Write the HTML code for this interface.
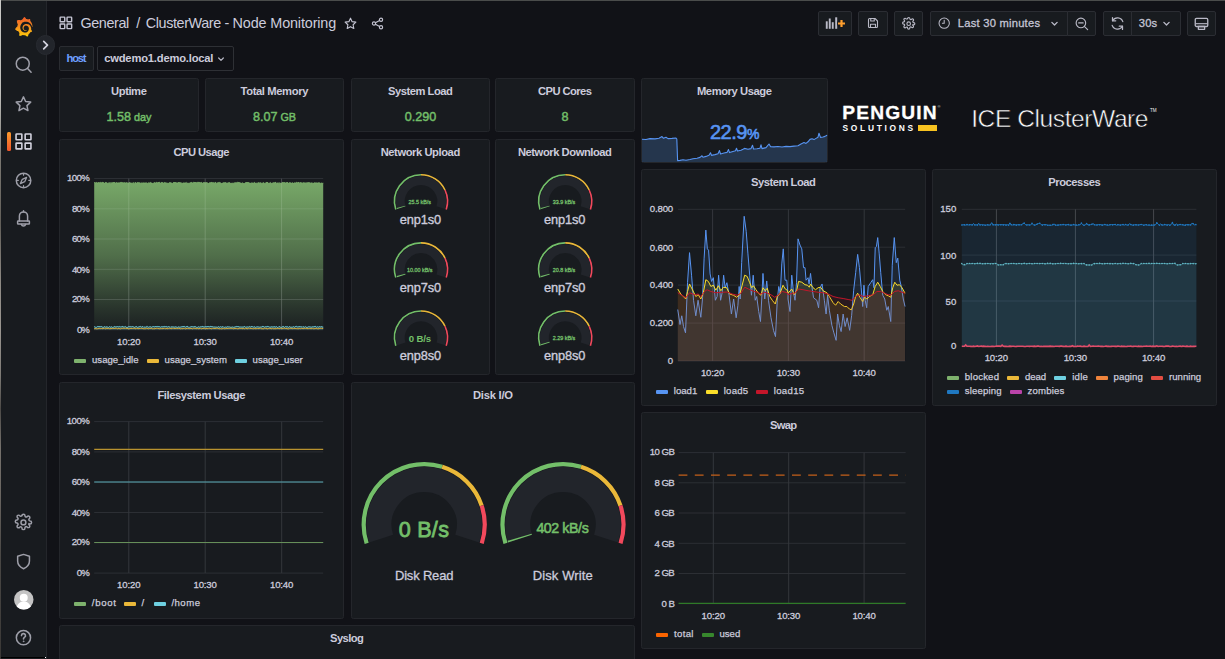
<!DOCTYPE html>
<html lang="en"><head><meta charset="utf-8"><title>ClusterWare - Node Monitoring - Grafana</title>
<style>
html,body{margin:0;padding:0}
body{width:1225px;height:659px;overflow:hidden;background:#111217;position:relative;font-family:"Liberation Sans",sans-serif;}
.a{position:absolute}
.t{position:absolute;white-space:nowrap;font-family:"Liberation Sans",sans-serif}
.panel{position:absolute;box-sizing:border-box;background:#181b1f;border:1px solid #24262b;border-radius:2.400px}
.btn{position:absolute;box-sizing:border-box;top:11px;height:25px;background:#181b1f;border:1px solid #2b2d33;border-radius:2px}
.sw{position:absolute;width:12px;height:4px;border-radius:1px}
svg{overflow:visible}
</style></head>
<body>
<div aria-label="Page chrome">
<div class="a" style="left:0;top:0;width:1225px;height:1px;background:#4a4c4b"></div>
<div class="a" style="left:0;top:0;width:1px;height:659px;background:linear-gradient(#c9c9c6 0%,#c0c0bc 14%,#7a7771 24%,#625f59 34%,#8e8a84 43%,#9a9690 50%,#7d7a75 57%,#4c4a47 62%,#75716c 68%,#6a6661 75%,#4a4845 84%,#3a3836 100%)"></div>
<div class="a" style="left:1px;top:1px;width:45px;height:658px;background:#181b1f;border-right:1px solid #24262b"></div>
<div class="a" style="left:1px;top:657px;width:45px;height:1px;background:#000"></div><div class="a" style="left:45px;top:657px;width:1px;height:1px;background:#fff"></div>
<svg class="a" style="left:14.9px;top:16.8px" width="17.4" height="19.1" viewBox="-3 0 102.500 108" preserveAspectRatio="none">
<defs><linearGradient id="gl" x1="0" y1="1" x2="0" y2="0"><stop offset="0" stop-color="#fbca0a"/><stop offset="0.55" stop-color="#f58a1f"/><stop offset="1" stop-color="#f05a28"/></linearGradient></defs>
<path fill="url(#gl)" d="M99 47c-.2-1.800-.500-3.900-1.100-6.200-.6-2.300-1.500-4.800-2.800-7.400-1.300-2.600-3-5.300-5.200-7.900-.9-1-1.800-2.100-2.900-3 1.600-6.200-1.900-11.600-1.900-11.600-6-.4-9.800 1.900-11.200 2.900-.2-.1-.5-.2-.7-.3-1-.4-2.100-.8-3.200-1.100-1.100-.3-2.200-.6-3.400-.8-1.200-.2-2.300-.4-3.500-.5-.2 0-.4 0-.6 0C59.800 2.900 52.400 0 52.400 0c-8.300 5.300-9.900 12.600-9.900 12.600s0 .2-.1.400c-.5.100-.9.300-1.400.4-.6.200-1.300.4-1.900.7-.6.200-1.300.5-1.900.8-1.300.5-2.500 1.200-3.700 1.800-1.200.7-2.300 1.400-3.400 2.200-.2-.1-.3-.1-.3-.1-11.500-4.400-21.700.900-21.700.900-.9 12.200 4.600 19.900 5.700 21.300-.3.800-.5 1.500-.8 2.300-.9 2.800-1.500 5.600-1.900 8.600-.1.400-.1.800-.2 1.300C2.300 58.400-2.800 69.900-2.800 69.900c8.900 10.200 19.200 10.800 19.200 10.800 1.300 2.400 2.800 4.600 4.600 6.700.7.900 1.500 1.700 2.300 2.600-3.200 9.300.5 17 .5 17 9.900.4 16.400-4.300 17.700-5.400 1 .3 2 .6 3 .9 3 .8 6.200 1.200 9.300 1.400.8 0 1.600 0 2.400 0h.4.2.5.5c4.700 6.600 12.800 7.600 12.800 7.600 5.800-6.100 6.200-12.200 6.200-13.500v-.1-.2-.3c1.200-.9 2.400-1.800 3.500-2.800 2.300-2.100 4.400-4.500 6.100-7.100.2-.2.300-.5.500-.7 6.600.4 11.300-4.100 11.300-4.100-1.100-6.900-5-10.200-5.800-10.900l-.1-.1-.1-.1c0-.4.100-.8.100-1.300.100-.7.100-1.500.100-2.200v-.6-.3-.1-.2l0-.5 0-.6c0-.2 0-.4 0-.6 0-.2 0-.4-.1-.6l-.1-.6-.1-.6c-.1-.8-.3-1.500-.4-2.300-.7-3-1.900-5.900-3.400-8.400-1.600-2.600-3.500-4.800-5.700-6.800-2.200-1.900-4.600-3.500-7.200-4.600-2.600-1.200-5.200-1.900-7.900-2.200-1.300-.2-2.700-.2-4-.2l-.5 0h-.1-.2-.2l-.5 0c-.2 0-.4 0-.500.100-.700.100-1.400.2-2 .3-2.700.5-5.200 1.500-7.400 2.800-2.200 1.300-4.100 3-5.700 4.900-1.600 1.900-2.800 3.900-3.600 6.100-.8 2.100-1.300 4.400-1.400 6.500 0 .5 0 1.100 0 1.600 0 .1 0 .3 0 .4l0 .4c0 .3 0 .5.100.8.100 1.100.300 2.100.600 3.100.600 2 1.500 3.800 2.700 5.400 1.200 1.500 2.500 2.800 4 3.800 1.500 1 3 1.700 4.600 2.200 1.600.5 3.100.7 4.600.7.200 0 .4 0 .5 0h.300c.100 0 .200 0 .300 0 .200 0 .3 0 .5 0 0 0 .100 0 .100 0l.200 0c.100 0 .200 0 .300 0 .200 0 .4-.1.500-.1.200 0 .3-.1.500-.1.300-.1.700-.2 1-.3.600-.2 1.200-.5 1.800-.7.600-.3 1.100-.6 1.500-.9.100-.1.300-.2.400-.3.500-.4.600-1.100.200-1.600-.4-.4-1-.5-1.500-.3-.1.100-.2.100-.4.200-.4.200-.8.400-1.300.5-.5.100-1 .3-1.500.4-.300 0-.500.100-.800.100-.100 0-.3 0-.400 0-.100 0-.3 0-.400 0-.100 0-.300 0-.400 0-.200 0-.300 0-.500 0 0 0-.1 0 0 0h-.1-.1c-.1 0-.100 0-.200 0-.100 0-.300 0-.400-.100-1.100-.200-2.300-.5-3.400-1-1.100-.5-2.200-1.200-3.100-2.100-1-.9-1.800-1.900-2.500-3.100-.700-1.200-1.100-2.500-1.300-3.800-.100-.7-.200-1.400-.100-2.100 0-.2 0-.400 0-.600 0 .100 0 0 0 0v-.100-.100c0-.100 0-.200 0-.300 0-.400.100-.700.200-1.100.5-2.900 2-5.800 4.200-7.900.600-.5 1.200-1 1.800-1.500.600-.4 1.300-.800 2-1.200.700-.3 1.400-.600 2.200-.800.700-.2 1.500-.3 2.300-.4.400 0 .8-.1 1.200-.1.100 0 .2 0 .3 0l.3 0h.200c.100 0 0 0 0 0h.100l.3 0c.8.100 1.700.2 2.500.4 1.600.4 3.200.9 4.700 1.800 3 1.600 5.500 4.200 7 7.300.800 1.500 1.300 3.200 1.600 5 .100.400.100.900.200 1.300l0 .3 0 .3c0 .100 0 .200 0 .300 0 .100 0 .200 0 .300v.300l0 .300c0 .200 0 .600 0 .800 0 .500-.100.900-.200 1.400-.100.500-.100.900-.200 1.400-.100.500-.200.900-.300 1.400-.200.900-.500 1.800-.900 2.700-.700 1.800-1.600 3.500-2.700 5-2.200 3.100-5.300 5.600-8.700 7.200-1.700.800-3.500 1.400-5.400 1.700-.900.200-1.900.300-2.800.300l-.200 0h-.200-.300-.500-.200c.100 0 0 0 0 0h-.100c-.5 0-1 0-1.500-.1-2-.100-4-.500-5.900-1.100-1.900-.600-3.800-1.300-5.500-2.200-3.500-1.900-6.600-4.400-9.100-7.500-1.200-1.500-2.300-3.200-3.200-4.900-.900-1.700-1.600-3.500-2.100-5.400-.500-1.800-.800-3.700-.900-5.700l0-.4v-.100-.100-.200l0-.300v-.100-.100-.200-.400-.100c0 0 0 0 0 0v-.200c0-.200 0-.500 0-.700.100-1 .100-2 .300-3 .100-1 .300-2 .500-3 .200-1 .5-2 .700-2.900.6-1.900 1.300-3.800 2.100-5.500 1.700-3.500 3.800-6.600 6.400-9.100.600-.6 1.300-1.200 2-1.800.700-.6 1.400-1.100 2.200-1.500.700-.5 1.500-.9 2.300-1.300.400-.2.800-.4 1.200-.6.200-.100.4-.200.600-.3.200-.100.400-.200.600-.3.800-.3 1.700-.6 2.500-.9.200-.100.400-.100.700-.2.200-.100.400-.100.700-.2.400-.100.900-.200 1.300-.3.200-.100.400-.100.700-.100.200 0 .4-.100.700-.100.200 0 .4-.100.700-.100l.3-.100.3-.1c.200 0 .4-.1.700-.1.300 0 .5-.1.800-.1.200 0 .600-.1.800-.1.200 0 .3 0 .5-.1l.3 0 .2 0 .200 0c.3 0 .5 0 .8-.1l.400 0c0 0 .100 0 0 0h.100.200c.200 0 .400 0 .700 0 .900 0 1.800 0 2.600 0 1.700.1 3.400.3 5.100.6 3.300.6 6.400 1.700 9.200 3.100 2.800 1.400 5.400 3.100 7.500 4.900.100.1.300.200.400.3.100.100.300.200.400.300.300.200.500.500.800.700.300.200.500.500.800.700.200.300.500.500.700.800 1 1 1.800 2 2.600 3.100 1.600 2.100 2.900 4.200 3.900 6.200.100.100.100.200.200.400.100.100.100.200.200.400.100.200.200.500.400.700.100.200.200.500.300.700.100.200.200.500.300.700.400 1 .800 1.900 1 2.700.500 1.400.800 2.600 1.100 3.600.100.400.500.700.900.700.500 0 .800-.4.800-.9.100-1.200.100-2.500 0-4z"/></svg>
<svg class="a" style="left:0;top:0" width="60" height="659" viewBox="0 0 60 659" fill="none" stroke="#9e9fa9" stroke-width="1.5" stroke-linecap="round" stroke-linejoin="round"><circle cx="22.75" cy="63.7" r="6.5"/><path d="M27.6 68.6L31.1 72.3"/><path d="M23.45 96.85 L25.62 101.46 L30.68 102.10 L26.97 105.59 L27.92 110.60 L23.45 108.15 L18.98 110.60 L19.93 105.59 L16.22 102.10 L21.28 101.46 Z"/><rect x="16.05" y="134.0" width="5.800" height="5.800" rx="0.5" stroke="#d2d2de" stroke-width="1.6"/><rect x="25.15" y="134.0" width="5.800" height="5.800" rx="0.5" stroke="#d2d2de" stroke-width="1.6"/><rect x="16.05" y="143.1" width="5.800" height="5.800" rx="0.5" stroke="#d2d2de" stroke-width="1.6"/><rect x="25.15" y="143.1" width="5.800" height="5.800" rx="0.5" stroke="#d2d2de" stroke-width="1.6"/><circle cx="23.55" cy="180.45" r="7.25"/><path d="M26.6 177.4l-1.9 4.3-4.3 1.9 1.9-4.3z" stroke-width="1.3"/><path d="M23.55 173.8v1.4M23.55 185.7v1.4M16.9 180.45h1.4M28.8 180.45h1.4" stroke-width="1.2"/><path d="M19.400 220.900V216a4.100 4.100 0 0 1 8.200 0v4.900"/><rect x="17.6" y="220.900" width="11.800" height="3.200" rx="0.5"/><path d="M23.5 210.700v1"/><path d="M21.400 224.500a2.200 2.200 0 0 0 4.200 0"/><g transform="translate(14.55 513.5) scale(0.74)" stroke-width="2"><circle cx="12" cy="12" r="3.300"/><path d="M19.400 13.500a1.700 1.700 0 0 0 .3 1.900l.100.100a2 2 0 1 1-2.800 2.800l-.100-.100a1.700 1.700 0 0 0-2.900 1.200V19.800a2 2 0 1 1-4 0v-.100a1.700 1.700 0 0 0-2.900-1.200l-.100.100a2 2 0 1 1-2.800-2.800l.100-.100a1.700 1.700 0 0 0-1.200-2.900H3a2 2 0 1 1 0-4h.100a1.700 1.700 0 0 0 1.200-2.900l-.100-.100a2 2 0 1 1 2.800-2.800l.100.100a1.700 1.700 0 0 0 1.900.3h.100a1.700 1.700 0 0 0 1-1.500V3a2 2 0 1 1 4 0v.100a1.700 1.700 0 0 0 2.900 1.200l.100-.100a2 2 0 1 1 2.800 2.800l-.100.100a1.700 1.700 0 0 0-.3 1.900v.100a1.700 1.700 0 0 0 1.500 1H21a2 2 0 1 1 0 4h-.100a1.700 1.700 0 0 0-1.500 1z"/></g><path d="M23.55 554.400l5.900 1.900v4.800c0 3.600-2.400 6.100-5.900 7.700-3.500-1.600-5.900-4.100-5.900-7.700v-4.800z"/><circle cx="23.45" cy="637.65" r="7.1"/><path d="M21.500 635.600a2 2 0 1 1 2.900 1.800c-.6.400-.9.800-.9 1.500" stroke-width="1.600"/><circle cx="23.500" cy="641.300" r="0.500" fill="#9e9fa9" stroke-width="0.600"/></svg>
<div class="a" style="left:7px;top:132px;width:4px;height:19px;border-radius:1.5px;background:linear-gradient(#fd9b2c,#f0562b)"></div>
<svg class="a" style="left:13.9px;top:589.9px" width="19.500" height="19.500" viewBox="0 0 24 24"><defs><clipPath id="av"><circle cx="12" cy="12" r="12"/></clipPath></defs><circle cx="12" cy="12" r="12" fill="#c4c4c4"/><g clip-path="url(#av)" fill="#fff"><circle cx="12" cy="9.600" r="4.900"/><path d="M2.500 26c0-7.800 4-12 9.500-12s9.500 4.200 9.500 12z"/></g></svg>
<div class="a" style="left:35.7px;top:35.2px;width:19.800px;height:19.800px;border-radius:50%;background:#22252b;box-sizing:border-box;border:1px solid #282b31"></div>
<svg class="a" style="left:40px;top:39px" width="12" height="12" viewBox="40 39 12 12" fill="none" stroke="#d4d4e0" stroke-width="1.700" stroke-linecap="round" stroke-linejoin="round"><path d="M43.700 41.400l3.800 3.700-3.800 3.700"/></svg>
<svg class="a" style="left:59.300px;top:16.400px" width="13.800" height="13.800" viewBox="0 0 24 24" fill="none" stroke="#c4c4d2" stroke-width="2.500" stroke-linejoin="round"><rect x="2" y="2" width="8" height="8" rx="1"/><rect x="14" y="2" width="8" height="8" rx="1"/><rect x="2" y="14" width="8" height="8" rx="1"/><rect x="14" y="14" width="8" height="8" rx="1"/></svg>
<span class="t" style="left:80.50px;top:15px;font-size:14.4px;line-height:16px;color:#ccccdc;letter-spacing:-0.422px;">General</span>
<span class="t" style="left:136.30px;top:15px;font-size:14.4px;line-height:16px;color:#ccccdc;">/</span>
<span class="t" style="left:145.80px;top:15px;font-size:14.4px;line-height:16px;color:#ccccdc;letter-spacing:-0.408px;">ClusterWare</span>
<span class="t" style="left:224.60px;top:15px;font-size:14.4px;line-height:16px;color:#ccccdc;">-</span>
<span class="t" style="left:232.60px;top:15px;font-size:14.4px;line-height:16px;color:#ccccdc;letter-spacing:-0.140px;">Node Monitoring</span>
<svg class="a" style="left:343.500px;top:16.500px" width="13" height="13" viewBox="0 0 24 24" fill="none" stroke="#c4c4d2" stroke-width="2.100" stroke-linejoin="round"><path d="M12 2.200l3 6.400 6.900.9-5.100 4.800 1.300 6.900L12 17.800l-6.100 3.400 1.300-6.900L2.100 9.500l6.900-.9z"/></svg>
<svg class="a" style="left:370.500px;top:16.500px" width="13" height="13" viewBox="0 0 24 24" fill="none" stroke="#c4c4d2" stroke-width="2.100"><circle cx="18.500" cy="5" r="3"/><circle cx="5.500" cy="12" r="3"/><circle cx="18.500" cy="19" r="3"/><path d="M8.200 10.600l7.600-4.200M8.200 13.400l7.600 4.200"/></svg>
<div class="btn" style="left:818.00px;width:34.00px;"></div>
<div class="btn" style="left:858.00px;width:30.00px;"></div>
<div class="btn" style="left:894.00px;width:29.00px;"></div>
<div class="btn" style="left:930.00px;width:138.00px;border-radius:2px 0 0 2px"></div>
<div class="btn" style="left:1067.00px;width:29.00px;border-radius:0 2px 2px 0"></div>
<div class="btn" style="left:1103.00px;width:29.00px;border-radius:2px 0 0 2px"></div>
<div class="btn" style="left:1131.00px;width:50.00px;border-radius:0 2px 2px 0"></div>
<div class="btn" style="left:1187.00px;width:29.00px;"></div>
<svg class="a" style="left:825px;top:16px" width="22" height="14" viewBox="825 16 22 14"><g fill="#b9b9c6"><rect x="825.800" y="21.300" width="1.900" height="7.500"/><rect x="828.800" y="18.500" width="1.900" height="10.300"/><rect x="831.800" y="22.200" width="1.900" height="6.600"/><rect x="835.200" y="17.300" width="2" height="11.500"/></g><path d="M841.500 19.300v8.400M837.300 23.500h8.400" stroke="#181b1f" stroke-width="4.200" fill="none"/><path d="M841.500 20v7M838 23.500h7" stroke="#ff9f2e" stroke-width="2.200" fill="none"/></svg>
<svg class="a" style="left:866.900px;top:17.200px" width="12" height="12" viewBox="0 0 24 24" fill="none" stroke="#b9b9c6" stroke-width="2.200" stroke-linejoin="round"><path d="M3 5a2 2 0 0 1 2-2h11l5 5v11a2 2 0 0 1-2 2H5a2 2 0 0 1-2-2z"/><path d="M7.500 3v5h7V3M7 21v-6.500h10V21"/></svg>
<svg class="a" style="left:901.700px;top:16.600px" width="13.400" height="13.400" viewBox="0 0 24 24" fill="none" stroke="#b9b9c6" stroke-width="2" stroke-linejoin="round"><circle cx="12" cy="12" r="3.200"/><path d="M19.400 13.500a1.700 1.700 0 0 0 .3 1.900l.100.100a2 2 0 1 1-2.800 2.800l-.100-.100a1.700 1.700 0 0 0-2.900 1.200V19.800a2 2 0 1 1-4 0v-.100a1.700 1.700 0 0 0-2.900-1.200l-.100.100a2 2 0 1 1-2.800-2.800l.100-.100a1.700 1.700 0 0 0-1.200-2.900H3a2 2 0 1 1 0-4h.100a1.700 1.700 0 0 0 1.200-2.900l-.100-.100a2 2 0 1 1 2.800-2.800l.100.100a1.700 1.700 0 0 0 1.900.3h.1a1.700 1.700 0 0 0 1-1.500V3a2 2 0 1 1 4 0v.100a1.700 1.700 0 0 0 2.900 1.200l.100-.100a2 2 0 1 1 2.800 2.800l-.100.100a1.700 1.700 0 0 0-.3 1.900v.1a1.700 1.700 0 0 0 1.500 1H21a2 2 0 1 1 0 4h-.100a1.700 1.700 0 0 0-1.500 1z"/></svg>
<svg class="a" style="left:937.700px;top:16.900px" width="12.400" height="12.400" viewBox="0 0 24 24" fill="none" stroke="#b9b9c6" stroke-width="2" stroke-linecap="round"><circle cx="12" cy="12" r="10"/><path d="M12 6.500V12H8.500"/></svg>
<span class="t" style="left:957.80px;top:17px;font-size:11.2px;line-height:12px;color:#c4c4d4;letter-spacing:0.231px;-webkit-text-stroke:0.3px #c4c4d4;">Last 30 minutes</span>
<svg class="a" style="left:1050.00px;top:19.00px" width="9" height="9" viewBox="0 0 24 24" fill="none" stroke="#b9b9c6" stroke-width="3.6" stroke-linecap="round" stroke-linejoin="round"><path d="M5 9l7 7 7-7"/></svg>
<svg class="a" style="left:1075px;top:17px" width="13.500" height="13.500" viewBox="0 0 24 24" fill="none" stroke="#b9b9c6" stroke-width="2" stroke-linecap="round"><circle cx="10.500" cy="10.500" r="8.500"/><path d="M17 17l5.500 5.500M6.500 10.500h8"/></svg>
<svg class="a" style="left:1110px;top:16px" width="15" height="15" viewBox="0 0 24 24" fill="none" stroke="#b9b9c6" stroke-width="2" stroke-linecap="round" stroke-linejoin="round"><path d="M20.500 9A9 9 0 0 0 4.200 7.500"/><path d="M4 2.500v5.200h5.200"/><path d="M3.500 15a9 9 0 0 0 16.300 1.500"/><path d="M20 21.500v-5.200h-5.200"/></svg>
<span class="t" style="left:1138.80px;top:17px;font-size:11.2px;line-height:12px;color:#c4c4d4;letter-spacing:0.171px;-webkit-text-stroke:0.3px #c4c4d4;">30s</span>
<svg class="a" style="left:1162.00px;top:19.00px" width="9" height="9" viewBox="0 0 24 24" fill="none" stroke="#b9b9c6" stroke-width="3.6" stroke-linecap="round" stroke-linejoin="round"><path d="M5 9l7 7 7-7"/></svg>
<svg class="a" style="left:1194px;top:16.500px" width="15" height="14" viewBox="0 0 24 22" fill="none" stroke="#b9b9c6" stroke-width="2.100" stroke-linejoin="round"><rect x="2" y="2" width="20" height="13" rx="2"/><path d="M2.500 10.500h19" stroke-width="1.800"/><rect x="7" y="15" width="10" height="4.500" /></svg>
<div class="a" style="left:59px;top:46px;width:33px;height:23px;background:#181b1f;border:1px solid #2a2c31;border-radius:2px"></div>
<span class="t" style="left:66.60px;top:52px;font-size:11.2px;line-height:12px;color:#6e9fff;font-weight:700;letter-spacing:-1.281px;">host</span>
<div class="a" style="left:97px;top:46px;width:135px;height:23px;background:#111217;border:1px solid #2e3035;border-radius:2px"></div>
<span class="t" style="left:104.20px;top:52px;font-size:11.2px;line-height:12px;color:#ccccdc;font-weight:700;letter-spacing:-0.192px;">cwdemo1.demo.local</span>
<svg class="a" style="left:216.50px;top:54.80px" width="8" height="8" viewBox="0 0 24 24" fill="none" stroke="#b9b9c6" stroke-width="3.6" stroke-linecap="round" stroke-linejoin="round"><path d="M5 9l7 7 7-7"/></svg>
</div>
<main aria-label="Dashboard panels">
<section aria-label="Stats">
<div class="panel" style="left:59.00px;top:78.00px;width:140.00px;height:54.00px"></div>
<span class="t" style="left:111.10px;top:85px;font-size:11.2px;line-height:12px;color:#ccccdc;font-weight:700;letter-spacing:-0.432px;">Uptime</span>
<div class="panel" style="left:205.00px;top:78.00px;width:139.00px;height:54.00px"></div>
<span class="t" style="left:240.55px;top:85px;font-size:11.2px;line-height:12px;color:#ccccdc;font-weight:700;letter-spacing:-0.371px;">Total Memory</span>
<div class="panel" style="left:351.00px;top:78.00px;width:139.00px;height:54.00px"></div>
<span class="t" style="left:388.05px;top:85px;font-size:11.2px;line-height:12px;color:#ccccdc;font-weight:700;letter-spacing:-0.481px;">System Load</span>
<div class="panel" style="left:495.00px;top:78.00px;width:140.00px;height:54.00px"></div>
<span class="t" style="left:538.05px;top:85px;font-size:11.2px;line-height:12px;color:#ccccdc;font-weight:700;letter-spacing:-0.576px;">CPU Cores</span>
<span class="t" style="left:69.00px;width:120px;text-align:center;top:108.60px;line-height:16px;font-size:12.6px;color:#73bf69;-webkit-text-stroke:0.45px #73bf69">1.58<span style="font-size:10.8px"> day</span></span>
<span class="t" style="left:214.50px;width:120px;text-align:center;top:108.60px;line-height:16px;font-size:12.6px;color:#73bf69;-webkit-text-stroke:0.45px #73bf69">8.07<span style="font-size:10.8px"> GB</span></span>
<span class="t" style="left:360.50px;width:120px;text-align:center;top:108.60px;line-height:16px;font-size:12.6px;color:#73bf69;-webkit-text-stroke:0.45px #73bf69">0.290<span style="font-size:10.8px"></span></span>
<span class="t" style="left:505.00px;width:120px;text-align:center;top:108.60px;line-height:16px;font-size:12.6px;color:#73bf69;-webkit-text-stroke:0.45px #73bf69">8<span style="font-size:10.8px"></span></span>
<div class="panel" style="left:641.00px;top:78.00px;width:187.00px;height:85.00px;overflow:hidden"></div>
<span class="t" style="left:696.95px;top:85px;font-size:11.2px;line-height:12px;color:#ccccdc;font-weight:700;letter-spacing:-0.416px;">Memory Usage</span>
<svg class="a" style="left:641.00px;top:78.00px" width="187.00" height="85.00" viewBox="641.00 78.00 187.00 85.00"><path d="M642.00 139.20 L646.00 139.50 L650.00 138.60 L655.00 138.90 L659.00 138.20 L662.00 136.60 L663.50 138.30 L666.00 137.20 L668.00 138.60 L672.00 138.40 L676.00 138.00 L676.80 139.00 L677.60 160.60 L680.00 160.40 L683.00 159.80 L686.00 160.30 L690.00 159.50 L693.00 158.70 L697.00 158.20 L700.00 157.40 L702.00 155.80 L703.00 157.20 L706.00 156.40 L709.00 155.30 L710.50 152.80 L711.50 155.40 L715.00 154.60 L718.00 153.80 L719.50 150.60 L720.50 154.00 L724.00 153.00 L727.00 152.40 L728.50 149.60 L729.50 152.60 L733.00 151.50 L735.50 150.80 L736.50 148.20 L737.50 151.00 L741.00 150.20 L743.00 149.20 L744.50 148.40 L748.00 149.20 L751.00 148.60 L752.50 145.20 L753.50 149.00 L757.00 148.70 L760.00 148.20 L761.00 144.80 L762.00 148.60 L766.00 147.60 L769.00 144.00 L770.50 146.60 L774.00 146.90 L778.00 146.50 L782.00 147.00 L786.00 146.40 L790.00 146.60 L794.00 146.10 L798.00 145.70 L801.00 144.00 L804.00 142.60 L806.00 143.40 L808.00 141.80 L810.00 139.40 L812.00 138.80 L814.00 139.60 L816.00 138.40 L818.00 137.20 L819.00 133.20 L820.50 137.40 L823.00 137.00 L825.00 136.40 L826.50 135.40 L827.00 136.00 L827.00 162.00 L642.00 162.00 Z" fill="#5794f2" fill-opacity="0.22"/><path d="M642.00 139.20 L646.00 139.50 L650.00 138.60 L655.00 138.90 L659.00 138.20 L662.00 136.60 L663.50 138.30 L666.00 137.20 L668.00 138.60 L672.00 138.40 L676.00 138.00 L676.80 139.00 L677.60 160.60 L680.00 160.40 L683.00 159.80 L686.00 160.30 L690.00 159.50 L693.00 158.70 L697.00 158.20 L700.00 157.40 L702.00 155.80 L703.00 157.20 L706.00 156.40 L709.00 155.30 L710.50 152.80 L711.50 155.40 L715.00 154.60 L718.00 153.80 L719.50 150.60 L720.50 154.00 L724.00 153.00 L727.00 152.40 L728.50 149.60 L729.50 152.60 L733.00 151.50 L735.50 150.80 L736.50 148.20 L737.50 151.00 L741.00 150.20 L743.00 149.20 L744.50 148.40 L748.00 149.20 L751.00 148.60 L752.50 145.20 L753.50 149.00 L757.00 148.70 L760.00 148.20 L761.00 144.80 L762.00 148.60 L766.00 147.60 L769.00 144.00 L770.50 146.60 L774.00 146.90 L778.00 146.50 L782.00 147.00 L786.00 146.40 L790.00 146.60 L794.00 146.10 L798.00 145.70 L801.00 144.00 L804.00 142.60 L806.00 143.40 L808.00 141.80 L810.00 139.40 L812.00 138.80 L814.00 139.60 L816.00 138.40 L818.00 137.20 L819.00 133.20 L820.50 137.40 L823.00 137.00 L825.00 136.40 L826.50 135.40 L827.00 136.00" fill="none" stroke="#5794f2" stroke-width="1.100" stroke-linejoin="round"/></svg>
<span class="t" style="left:641.00px;width:187.00px;text-align:center;top:119.30px;line-height:26px;font-size:20px;letter-spacing:-0.45px;color:#5794f2;-webkit-text-stroke:0.6px #5794f2">22.9<span style="font-size:14px">%</span></span>
<span class="t" style="left:842.30px;top:102px;font-size:19.2px;line-height:21px;color:#fff;font-weight:700;letter-spacing:1.153px;-webkit-text-stroke:0.3px #fff;">PENGUIN</span>
<span class="t" style="left:842.50px;top:123px;font-size:8.4px;line-height:10px;color:#fff;font-weight:700;letter-spacing:2.725px;">SOLUTIONS</span>
<div class="a" style="left:917.5px;top:125.3px;width:19px;height:5.8px;background:#f7c220"></div>
<span class="t" style="left:937.6px;top:104px;font-size:4px;line-height:5px;color:#ddd">&#174;</span>
<span class="t" style="left:971.20px;top:105px;font-size:24.6px;line-height:27px;color:#ffffff;letter-spacing:-0.445px;-webkit-text-stroke:0.55px #111217;">ICE ClusterWare</span>
<span class="t" style="left:1150px;top:107.5px;font-size:4.6px;line-height:6px;color:#eee;letter-spacing:-0.1px">TM</span>
</section>
<section aria-label="CPU Usage">
<div class="panel" style="left:59.00px;top:139.00px;width:285.00px;height:236.00px"></div>
<span class="t" style="left:173.50px;top:146px;font-size:11.2px;line-height:12px;color:#ccccdc;font-weight:700;letter-spacing:-0.547px;">CPU Usage</span>
<span class="t" style="left:66.97px;top:172px;font-size:9.6px;line-height:11px;color:#ccccdc;letter-spacing:-0.573px;-webkit-text-stroke:0.3px #ccccdc;">100%</span>
<span class="t" style="left:71.93px;top:203px;font-size:9.6px;line-height:11px;color:#ccccdc;letter-spacing:-0.672px;-webkit-text-stroke:0.3px #ccccdc;">80%</span>
<span class="t" style="left:71.93px;top:233px;font-size:9.6px;line-height:11px;color:#ccccdc;letter-spacing:-0.672px;-webkit-text-stroke:0.3px #ccccdc;">60%</span>
<span class="t" style="left:71.93px;top:264px;font-size:9.6px;line-height:11px;color:#ccccdc;letter-spacing:-0.672px;-webkit-text-stroke:0.3px #ccccdc;">40%</span>
<span class="t" style="left:71.93px;top:293px;font-size:9.6px;line-height:11px;color:#ccccdc;letter-spacing:-0.672px;-webkit-text-stroke:0.3px #ccccdc;">20%</span>
<span class="t" style="left:76.90px;top:324px;font-size:9.6px;line-height:11px;color:#ccccdc;letter-spacing:-0.971px;-webkit-text-stroke:0.3px #ccccdc;">0%</span>
<span class="t" style="left:117.09px;top:336px;font-size:9.6px;line-height:11px;color:#ccccdc;letter-spacing:-0.150px;-webkit-text-stroke:0.3px #ccccdc;">10:20</span>
<span class="t" style="left:193.49px;top:336px;font-size:9.6px;line-height:11px;color:#ccccdc;letter-spacing:-0.150px;-webkit-text-stroke:0.3px #ccccdc;">10:30</span>
<span class="t" style="left:269.89px;top:336px;font-size:9.6px;line-height:11px;color:#ccccdc;letter-spacing:-0.150px;-webkit-text-stroke:0.3px #ccccdc;">10:40</span>
<svg class="a" style="left:59.00px;top:139.00px" width="285.00" height="236.00" viewBox="59.00 139.00 285.00 236.00"><defs><linearGradient id="cg" x1="0" y1="0" x2="0" y2="1"><stop offset="0" stop-color="#7eb26d" stop-opacity="0.93"/><stop offset="0.5" stop-color="#7eb26d" stop-opacity="0.55"/><stop offset="0.85" stop-color="#7eb26d" stop-opacity="0.17"/><stop offset="1" stop-color="#7eb26d" stop-opacity="0.03"/></linearGradient></defs><line x1="94.20" x2="323.20" y1="178.50" y2="178.50" stroke="#2c2f34" stroke-width="1"/><line x1="94.20" x2="323.20" y1="208.80" y2="208.80" stroke="#2c2f34" stroke-width="1"/><line x1="94.20" x2="323.20" y1="239.00" y2="239.00" stroke="#2c2f34" stroke-width="1"/><line x1="94.20" x2="323.20" y1="269.30" y2="269.30" stroke="#2c2f34" stroke-width="1"/><line x1="94.20" x2="323.20" y1="299.50" y2="299.50" stroke="#2c2f34" stroke-width="1"/><line x1="94.20" x2="323.20" y1="329.80" y2="329.80" stroke="#2c2f34" stroke-width="1"/><line x1="128.80" x2="128.80" y1="178.50" y2="329.80" stroke="#34373c" stroke-width="1"/><line x1="205.20" x2="205.20" y1="178.50" y2="329.80" stroke="#34373c" stroke-width="1"/><line x1="281.60" x2="281.60" y1="178.50" y2="329.80" stroke="#34373c" stroke-width="1"/><path d="M94.20 182.71 L95.00 182.52 L95.80 183.07 L96.60 182.43 L97.40 182.94 L98.20 182.75 L99.00 182.41 L99.80 182.91 L100.60 182.39 L101.40 182.83 L102.20 182.43 L103.00 182.45 L103.80 182.82 L104.60 183.26 L105.40 182.49 L106.20 182.60 L107.00 183.04 L107.80 183.39 L108.60 182.98 L109.40 182.79 L110.20 183.42 L111.00 182.40 L111.80 183.29 L112.60 182.67 L113.40 182.51 L114.20 182.48 L115.00 182.69 L115.80 183.25 L116.60 182.55 L117.40 182.99 L118.20 183.05 L119.00 182.76 L119.80 182.95 L120.60 182.42 L121.40 182.42 L122.20 182.58 L123.00 183.10 L123.80 182.82 L124.60 182.70 L125.40 182.99 L126.20 182.85 L127.00 182.68 L127.80 183.22 L128.60 183.12 L129.40 182.62 L130.20 182.98 L131.00 182.93 L131.80 183.31 L132.60 183.15 L133.40 182.67 L134.20 183.43 L135.00 182.48 L135.80 182.81 L136.60 183.18 L137.40 182.52 L138.20 182.89 L139.00 182.39 L139.80 183.09 L140.60 183.19 L141.40 182.98 L142.20 183.31 L143.00 182.70 L143.80 183.11 L144.60 183.00 L145.40 182.99 L146.20 182.85 L147.00 183.27 L147.80 183.39 L148.60 182.87 L149.40 183.08 L150.20 182.42 L151.00 183.12 L151.80 183.06 L152.60 183.44 L153.40 183.25 L154.20 182.66 L155.00 182.77 L155.80 183.09 L156.60 182.37 L157.40 182.86 L158.20 182.53 L159.00 182.48 L159.80 182.41 L160.60 183.20 L161.40 182.49 L162.20 182.62 L163.00 182.78 L163.80 183.31 L164.60 182.44 L165.40 182.84 L166.20 182.95 L167.00 183.32 L167.80 183.25 L168.60 183.30 L169.40 182.66 L170.20 182.81 L171.00 182.74 L171.80 183.32 L172.60 183.40 L173.40 182.52 L174.20 182.54 L175.00 182.61 L175.80 182.61 L176.60 182.88 L177.40 183.00 L178.20 182.64 L179.00 182.35 L179.80 182.81 L180.60 182.76 L181.40 182.97 L182.20 183.40 L183.00 183.11 L183.80 182.92 L184.60 183.03 L185.40 183.09 L186.20 182.41 L187.00 183.34 L187.80 183.21 L188.60 183.31 L189.40 183.23 L190.20 182.78 L191.00 182.79 L191.80 182.46 L192.60 183.05 L193.40 182.42 L194.20 182.42 L195.00 182.58 L195.80 182.53 L196.60 182.72 L197.40 182.41 L198.20 182.35 L199.00 182.52 L199.80 182.46 L200.60 182.75 L201.40 182.38 L202.20 183.31 L203.00 183.03 L203.80 182.51 L204.60 182.63 L205.40 182.73 L206.20 182.75 L207.00 182.49 L207.80 183.28 L208.60 183.44 L209.40 182.86 L210.20 182.88 L211.00 182.44 L211.80 182.46 L212.60 182.73 L213.40 182.64 L214.20 183.26 L215.00 182.53 L215.80 182.38 L216.60 183.40 L217.40 182.93 L218.20 182.51 L219.00 182.95 L219.80 182.38 L220.60 182.93 L221.40 183.43 L222.20 183.30 L223.00 183.12 L223.80 182.64 L224.60 182.75 L225.40 182.53 L226.20 183.20 L227.00 182.94 L227.80 183.21 L228.60 182.71 L229.40 182.60 L230.20 183.24 L231.00 183.43 L231.80 183.29 L232.60 183.24 L233.40 183.25 L234.20 183.16 L235.00 182.60 L235.80 182.92 L236.60 182.74 L237.40 182.38 L238.20 182.38 L239.00 182.66 L239.80 182.64 L240.60 183.11 L241.40 183.40 L242.20 182.84 L243.00 183.38 L243.80 183.44 L244.60 183.40 L245.40 182.75 L246.20 182.59 L247.00 182.60 L247.80 182.57 L248.60 182.57 L249.40 183.04 L250.20 183.34 L251.00 183.27 L251.80 182.88 L252.60 183.07 L253.40 183.23 L254.20 182.44 L255.00 183.08 L255.80 183.35 L256.60 183.21 L257.40 183.18 L258.20 182.88 L259.00 182.55 L259.80 183.22 L260.60 182.72 L261.40 183.23 L262.20 183.42 L263.00 182.79 L263.80 182.79 L264.60 183.39 L265.40 183.15 L266.20 182.54 L267.00 182.49 L267.80 182.52 L268.60 183.35 L269.40 183.24 L270.20 182.51 L271.00 183.26 L271.80 183.43 L272.60 183.07 L273.40 182.74 L274.20 182.95 L275.00 182.49 L275.80 182.37 L276.60 183.42 L277.40 183.06 L278.20 182.93 L279.00 183.38 L279.80 182.83 L280.60 183.31 L281.40 183.26 L282.20 182.58 L283.00 182.63 L283.80 182.67 L284.60 182.61 L285.40 183.00 L286.20 182.64 L287.00 182.81 L287.80 182.49 L288.60 183.35 L289.40 182.74 L290.20 182.85 L291.00 182.99 L291.80 183.34 L292.60 182.81 L293.40 183.36 L294.20 182.90 L295.00 182.94 L295.80 182.93 L296.60 182.37 L297.40 182.83 L298.20 182.55 L299.00 182.35 L299.80 183.23 L300.60 182.54 L301.40 182.87 L302.20 183.15 L303.00 182.96 L303.80 182.71 L304.60 182.92 L305.40 182.96 L306.20 183.21 L307.00 182.47 L307.80 182.97 L308.60 182.62 L309.40 182.65 L310.20 183.20 L311.00 182.91 L311.80 182.97 L312.60 183.19 L313.40 183.35 L314.20 182.84 L315.00 183.02 L315.80 182.91 L316.60 182.91 L317.40 183.11 L318.20 182.85 L319.00 182.94 L319.80 182.88 L320.60 183.39 L321.40 183.12 L322.20 183.31 L323.00 183.39 L323.20 182.90 L323.20 329.80 L94.20 329.80 Z" fill="url(#cg)"/><path d="M94.20 182.71 L95.00 182.52 L95.80 183.07 L96.60 182.43 L97.40 182.94 L98.20 182.75 L99.00 182.41 L99.80 182.91 L100.60 182.39 L101.40 182.83 L102.20 182.43 L103.00 182.45 L103.80 182.82 L104.60 183.26 L105.40 182.49 L106.20 182.60 L107.00 183.04 L107.80 183.39 L108.60 182.98 L109.40 182.79 L110.20 183.42 L111.00 182.40 L111.80 183.29 L112.60 182.67 L113.40 182.51 L114.20 182.48 L115.00 182.69 L115.80 183.25 L116.60 182.55 L117.40 182.99 L118.20 183.05 L119.00 182.76 L119.80 182.95 L120.60 182.42 L121.40 182.42 L122.20 182.58 L123.00 183.10 L123.80 182.82 L124.60 182.70 L125.40 182.99 L126.20 182.85 L127.00 182.68 L127.80 183.22 L128.60 183.12 L129.40 182.62 L130.20 182.98 L131.00 182.93 L131.80 183.31 L132.60 183.15 L133.40 182.67 L134.20 183.43 L135.00 182.48 L135.80 182.81 L136.60 183.18 L137.40 182.52 L138.20 182.89 L139.00 182.39 L139.80 183.09 L140.60 183.19 L141.40 182.98 L142.20 183.31 L143.00 182.70 L143.80 183.11 L144.60 183.00 L145.40 182.99 L146.20 182.85 L147.00 183.27 L147.80 183.39 L148.60 182.87 L149.40 183.08 L150.20 182.42 L151.00 183.12 L151.80 183.06 L152.60 183.44 L153.40 183.25 L154.20 182.66 L155.00 182.77 L155.80 183.09 L156.60 182.37 L157.40 182.86 L158.20 182.53 L159.00 182.48 L159.80 182.41 L160.60 183.20 L161.40 182.49 L162.20 182.62 L163.00 182.78 L163.80 183.31 L164.60 182.44 L165.40 182.84 L166.20 182.95 L167.00 183.32 L167.80 183.25 L168.60 183.30 L169.40 182.66 L170.20 182.81 L171.00 182.74 L171.80 183.32 L172.60 183.40 L173.40 182.52 L174.20 182.54 L175.00 182.61 L175.80 182.61 L176.60 182.88 L177.40 183.00 L178.20 182.64 L179.00 182.35 L179.80 182.81 L180.60 182.76 L181.40 182.97 L182.20 183.40 L183.00 183.11 L183.80 182.92 L184.60 183.03 L185.40 183.09 L186.20 182.41 L187.00 183.34 L187.80 183.21 L188.60 183.31 L189.40 183.23 L190.20 182.78 L191.00 182.79 L191.80 182.46 L192.60 183.05 L193.40 182.42 L194.20 182.42 L195.00 182.58 L195.80 182.53 L196.60 182.72 L197.40 182.41 L198.20 182.35 L199.00 182.52 L199.80 182.46 L200.60 182.75 L201.40 182.38 L202.20 183.31 L203.00 183.03 L203.80 182.51 L204.60 182.63 L205.40 182.73 L206.20 182.75 L207.00 182.49 L207.80 183.28 L208.60 183.44 L209.40 182.86 L210.20 182.88 L211.00 182.44 L211.80 182.46 L212.60 182.73 L213.40 182.64 L214.20 183.26 L215.00 182.53 L215.80 182.38 L216.60 183.40 L217.40 182.93 L218.20 182.51 L219.00 182.95 L219.80 182.38 L220.60 182.93 L221.40 183.43 L222.20 183.30 L223.00 183.12 L223.80 182.64 L224.60 182.75 L225.40 182.53 L226.20 183.20 L227.00 182.94 L227.80 183.21 L228.60 182.71 L229.40 182.60 L230.20 183.24 L231.00 183.43 L231.80 183.29 L232.60 183.24 L233.40 183.25 L234.20 183.16 L235.00 182.60 L235.80 182.92 L236.60 182.74 L237.40 182.38 L238.20 182.38 L239.00 182.66 L239.80 182.64 L240.60 183.11 L241.40 183.40 L242.20 182.84 L243.00 183.38 L243.80 183.44 L244.60 183.40 L245.40 182.75 L246.20 182.59 L247.00 182.60 L247.80 182.57 L248.60 182.57 L249.40 183.04 L250.20 183.34 L251.00 183.27 L251.80 182.88 L252.60 183.07 L253.40 183.23 L254.20 182.44 L255.00 183.08 L255.80 183.35 L256.60 183.21 L257.40 183.18 L258.20 182.88 L259.00 182.55 L259.80 183.22 L260.60 182.72 L261.40 183.23 L262.20 183.42 L263.00 182.79 L263.80 182.79 L264.60 183.39 L265.40 183.15 L266.20 182.54 L267.00 182.49 L267.80 182.52 L268.60 183.35 L269.40 183.24 L270.20 182.51 L271.00 183.26 L271.80 183.43 L272.60 183.07 L273.40 182.74 L274.20 182.95 L275.00 182.49 L275.80 182.37 L276.60 183.42 L277.40 183.06 L278.20 182.93 L279.00 183.38 L279.80 182.83 L280.60 183.31 L281.40 183.26 L282.20 182.58 L283.00 182.63 L283.80 182.67 L284.60 182.61 L285.40 183.00 L286.20 182.64 L287.00 182.81 L287.80 182.49 L288.60 183.35 L289.40 182.74 L290.20 182.85 L291.00 182.99 L291.80 183.34 L292.60 182.81 L293.40 183.36 L294.20 182.90 L295.00 182.94 L295.80 182.93 L296.60 182.37 L297.40 182.83 L298.20 182.55 L299.00 182.35 L299.80 183.23 L300.60 182.54 L301.40 182.87 L302.20 183.15 L303.00 182.96 L303.80 182.71 L304.60 182.92 L305.40 182.96 L306.20 183.21 L307.00 182.47 L307.80 182.97 L308.60 182.62 L309.40 182.65 L310.20 183.20 L311.00 182.91 L311.80 182.97 L312.60 183.19 L313.40 183.35 L314.20 182.84 L315.00 183.02 L315.80 182.91 L316.60 182.91 L317.40 183.11 L318.20 182.85 L319.00 182.94 L319.80 182.88 L320.60 183.39 L321.40 183.12 L322.20 183.31 L323.00 183.39 L323.20 182.90" fill="none" stroke="#7eb26d" stroke-width="1"/><line x1="128.80" x2="128.80" y1="178.50" y2="329.80" stroke="#ffffff" stroke-opacity="0.10" stroke-width="1"/><line x1="205.20" x2="205.20" y1="178.50" y2="329.80" stroke="#ffffff" stroke-opacity="0.10" stroke-width="1"/><line x1="281.60" x2="281.60" y1="178.50" y2="329.80" stroke="#ffffff" stroke-opacity="0.10" stroke-width="1"/><line x1="94.20" x2="323.20" y1="208.80" y2="208.80" stroke="#ffffff" stroke-opacity="0.07" stroke-width="1"/><line x1="94.20" x2="323.20" y1="239.00" y2="239.00" stroke="#ffffff" stroke-opacity="0.07" stroke-width="1"/><line x1="94.20" x2="323.20" y1="269.30" y2="269.30" stroke="#ffffff" stroke-opacity="0.07" stroke-width="1"/><line x1="94.20" x2="323.20" y1="299.50" y2="299.50" stroke="#ffffff" stroke-opacity="0.07" stroke-width="1"/><path d="M94.20 326.66 L95.00 326.96 L95.80 327.34 L96.60 327.24 L97.40 326.54 L98.20 326.52 L99.00 326.84 L99.80 326.47 L100.60 326.64 L101.40 326.47 L102.20 327.07 L103.00 327.18 L103.80 327.30 L104.60 326.55 L105.40 327.12 L106.20 327.06 L107.00 326.54 L107.80 327.28 L108.60 327.37 L109.40 326.62 L110.20 327.35 L111.00 326.80 L111.80 326.89 L112.60 327.39 L113.40 327.23 L114.20 326.56 L115.00 326.83 L115.80 326.92 L116.60 326.74 L117.40 326.60 L118.20 326.72 L119.00 327.12 L119.80 326.42 L120.60 326.95 L121.40 326.84 L122.20 326.42 L123.00 326.73 L123.80 327.02 L124.60 326.91 L125.40 326.46 L126.20 327.39 L127.00 327.19 L127.80 327.37 L128.60 326.50 L129.40 326.67 L130.20 326.44 L131.00 327.18 L131.80 326.67 L132.60 326.53 L133.40 326.82 L134.20 327.31 L135.00 327.22 L135.80 326.66 L136.60 326.55 L137.40 327.32 L138.20 326.97 L139.00 327.10 L139.80 326.49 L140.60 326.46 L141.40 327.09 L142.20 326.83 L143.00 326.47 L143.80 327.34 L144.60 327.03 L145.40 327.20 L146.20 326.48 L147.00 327.26 L147.80 326.47 L148.60 327.26 L149.40 326.85 L150.20 326.74 L151.00 326.95 L151.80 327.33 L152.60 326.67 L153.40 326.53 L154.20 326.93 L155.00 326.64 L155.80 326.51 L156.60 326.56 L157.40 326.45 L158.20 326.60 L159.00 326.71 L159.80 326.71 L160.60 327.16 L161.40 326.69 L162.20 326.90 L163.00 326.58 L163.80 326.75 L164.60 326.42 L165.40 326.65 L166.20 326.42 L167.00 327.13 L167.80 326.95 L168.60 326.59 L169.40 326.87 L170.20 327.33 L171.00 326.51 L171.80 327.22 L172.60 326.83 L173.40 326.90 L174.20 327.23 L175.00 326.79 L175.80 326.91 L176.60 327.09 L177.40 327.38 L178.20 326.74 L179.00 327.23 L179.80 327.11 L180.60 327.04 L181.40 326.80 L182.20 326.75 L183.00 326.45 L183.80 326.53 L184.60 326.47 L185.40 327.14 L186.20 326.66 L187.00 326.56 L187.80 326.48 L188.60 327.24 L189.40 327.27 L190.20 327.07 L191.00 326.68 L191.80 326.64 L192.60 326.69 L193.40 326.86 L194.20 326.56 L195.00 326.85 L195.80 326.66 L196.60 327.36 L197.40 327.37 L198.20 326.95 L199.00 326.64 L199.80 327.37 L200.60 326.71 L201.40 326.76 L202.20 326.40 L203.00 326.78 L203.80 326.87 L204.60 326.90 L205.40 326.60 L206.20 326.90 L207.00 326.40 L207.80 326.66 L208.60 326.49 L209.40 326.80 L210.20 326.44 L211.00 326.42 L211.80 326.70 L212.60 326.63 L213.40 326.99 L214.20 326.93 L215.00 327.15 L215.80 327.06 L216.60 327.12 L217.40 327.28 L218.20 326.79 L219.00 326.73 L219.80 327.38 L220.60 326.55 L221.40 327.12 L222.20 327.04 L223.00 326.44 L223.80 327.24 L224.60 327.29 L225.40 327.03 L226.20 327.13 L227.00 327.21 L227.80 326.54 L228.60 326.92 L229.40 326.90 L230.20 327.23 L231.00 327.20 L231.80 327.23 L232.60 326.98 L233.40 327.29 L234.20 327.08 L235.00 327.09 L235.80 326.63 L236.60 326.43 L237.40 326.53 L238.20 326.76 L239.00 326.50 L239.80 327.24 L240.60 326.96 L241.40 327.03 L242.20 327.03 L243.00 327.08 L243.80 326.89 L244.60 326.40 L245.40 327.20 L246.20 327.15 L247.00 326.90 L247.80 326.94 L248.60 327.06 L249.40 326.47 L250.20 327.14 L251.00 326.65 L251.80 326.47 L252.60 326.67 L253.40 327.13 L254.20 326.61 L255.00 327.14 L255.80 327.38 L256.60 326.89 L257.40 326.78 L258.20 326.88 L259.00 327.08 L259.80 327.17 L260.60 327.02 L261.40 327.04 L262.20 326.48 L263.00 326.55 L263.80 326.65 L264.60 327.14 L265.40 326.70 L266.20 326.97 L267.00 326.41 L267.80 326.46 L268.60 326.67 L269.40 327.07 L270.20 327.09 L271.00 327.08 L271.80 326.69 L272.60 326.92 L273.40 326.86 L274.20 326.87 L275.00 326.52 L275.80 327.29 L276.60 326.60 L277.40 327.38 L278.20 327.34 L279.00 326.42 L279.80 326.86 L280.60 327.22 L281.40 327.37 L282.20 326.85 L283.00 326.67 L283.80 326.61 L284.60 327.35 L285.40 326.61 L286.20 326.98 L287.00 326.54 L287.80 326.92 L288.60 327.35 L289.40 326.53 L290.20 327.22 L291.00 326.91 L291.80 327.29 L292.60 327.10 L293.40 326.63 L294.20 327.30 L295.00 326.89 L295.80 326.42 L296.60 326.40 L297.40 326.89 L298.20 326.85 L299.00 326.70 L299.80 326.54 L300.60 326.74 L301.40 326.72 L302.20 327.24 L303.00 326.40 L303.80 327.15 L304.60 327.24 L305.40 326.52 L306.20 327.33 L307.00 327.11 L307.80 327.30 L308.60 326.69 L309.40 326.77 L310.20 326.79 L311.00 327.40 L311.80 326.99 L312.60 326.76 L313.40 326.83 L314.20 326.68 L315.00 326.45 L315.80 326.50 L316.60 327.23 L317.40 326.69 L318.20 327.34 L319.00 326.65 L319.80 326.67 L320.60 326.91 L321.40 326.59 L322.20 326.77 L323.00 327.36 L323.20 326.90 L323.20 329.80 L94.20 329.80 Z" fill="#6ed0e0" fill-opacity="0.25"/><path d="M94.20 326.66 L95.00 326.96 L95.80 327.34 L96.60 327.24 L97.40 326.54 L98.20 326.52 L99.00 326.84 L99.80 326.47 L100.60 326.64 L101.40 326.47 L102.20 327.07 L103.00 327.18 L103.80 327.30 L104.60 326.55 L105.40 327.12 L106.20 327.06 L107.00 326.54 L107.80 327.28 L108.60 327.37 L109.40 326.62 L110.20 327.35 L111.00 326.80 L111.80 326.89 L112.60 327.39 L113.40 327.23 L114.20 326.56 L115.00 326.83 L115.80 326.92 L116.60 326.74 L117.40 326.60 L118.20 326.72 L119.00 327.12 L119.80 326.42 L120.60 326.95 L121.40 326.84 L122.20 326.42 L123.00 326.73 L123.80 327.02 L124.60 326.91 L125.40 326.46 L126.20 327.39 L127.00 327.19 L127.80 327.37 L128.60 326.50 L129.40 326.67 L130.20 326.44 L131.00 327.18 L131.80 326.67 L132.60 326.53 L133.40 326.82 L134.20 327.31 L135.00 327.22 L135.80 326.66 L136.60 326.55 L137.40 327.32 L138.20 326.97 L139.00 327.10 L139.80 326.49 L140.60 326.46 L141.40 327.09 L142.20 326.83 L143.00 326.47 L143.80 327.34 L144.60 327.03 L145.40 327.20 L146.20 326.48 L147.00 327.26 L147.80 326.47 L148.60 327.26 L149.40 326.85 L150.20 326.74 L151.00 326.95 L151.80 327.33 L152.60 326.67 L153.40 326.53 L154.20 326.93 L155.00 326.64 L155.80 326.51 L156.60 326.56 L157.40 326.45 L158.20 326.60 L159.00 326.71 L159.80 326.71 L160.60 327.16 L161.40 326.69 L162.20 326.90 L163.00 326.58 L163.80 326.75 L164.60 326.42 L165.40 326.65 L166.20 326.42 L167.00 327.13 L167.80 326.95 L168.60 326.59 L169.40 326.87 L170.20 327.33 L171.00 326.51 L171.80 327.22 L172.60 326.83 L173.40 326.90 L174.20 327.23 L175.00 326.79 L175.80 326.91 L176.60 327.09 L177.40 327.38 L178.20 326.74 L179.00 327.23 L179.80 327.11 L180.60 327.04 L181.40 326.80 L182.20 326.75 L183.00 326.45 L183.80 326.53 L184.60 326.47 L185.40 327.14 L186.20 326.66 L187.00 326.56 L187.80 326.48 L188.60 327.24 L189.40 327.27 L190.20 327.07 L191.00 326.68 L191.80 326.64 L192.60 326.69 L193.40 326.86 L194.20 326.56 L195.00 326.85 L195.80 326.66 L196.60 327.36 L197.40 327.37 L198.20 326.95 L199.00 326.64 L199.80 327.37 L200.60 326.71 L201.40 326.76 L202.20 326.40 L203.00 326.78 L203.80 326.87 L204.60 326.90 L205.40 326.60 L206.20 326.90 L207.00 326.40 L207.80 326.66 L208.60 326.49 L209.40 326.80 L210.20 326.44 L211.00 326.42 L211.80 326.70 L212.60 326.63 L213.40 326.99 L214.20 326.93 L215.00 327.15 L215.80 327.06 L216.60 327.12 L217.40 327.28 L218.20 326.79 L219.00 326.73 L219.80 327.38 L220.60 326.55 L221.40 327.12 L222.20 327.04 L223.00 326.44 L223.80 327.24 L224.60 327.29 L225.40 327.03 L226.20 327.13 L227.00 327.21 L227.80 326.54 L228.60 326.92 L229.40 326.90 L230.20 327.23 L231.00 327.20 L231.80 327.23 L232.60 326.98 L233.40 327.29 L234.20 327.08 L235.00 327.09 L235.80 326.63 L236.60 326.43 L237.40 326.53 L238.20 326.76 L239.00 326.50 L239.80 327.24 L240.60 326.96 L241.40 327.03 L242.20 327.03 L243.00 327.08 L243.80 326.89 L244.60 326.40 L245.40 327.20 L246.20 327.15 L247.00 326.90 L247.80 326.94 L248.60 327.06 L249.40 326.47 L250.20 327.14 L251.00 326.65 L251.80 326.47 L252.60 326.67 L253.40 327.13 L254.20 326.61 L255.00 327.14 L255.80 327.38 L256.60 326.89 L257.40 326.78 L258.20 326.88 L259.00 327.08 L259.80 327.17 L260.60 327.02 L261.40 327.04 L262.20 326.48 L263.00 326.55 L263.80 326.65 L264.60 327.14 L265.40 326.70 L266.20 326.97 L267.00 326.41 L267.80 326.46 L268.60 326.67 L269.40 327.07 L270.20 327.09 L271.00 327.08 L271.80 326.69 L272.60 326.92 L273.40 326.86 L274.20 326.87 L275.00 326.52 L275.80 327.29 L276.60 326.60 L277.40 327.38 L278.20 327.34 L279.00 326.42 L279.80 326.86 L280.60 327.22 L281.40 327.37 L282.20 326.85 L283.00 326.67 L283.80 326.61 L284.60 327.35 L285.40 326.61 L286.20 326.98 L287.00 326.54 L287.80 326.92 L288.60 327.35 L289.40 326.53 L290.20 327.22 L291.00 326.91 L291.80 327.29 L292.60 327.10 L293.40 326.63 L294.20 327.30 L295.00 326.89 L295.80 326.42 L296.60 326.40 L297.40 326.89 L298.20 326.85 L299.00 326.70 L299.80 326.54 L300.60 326.74 L301.40 326.72 L302.20 327.24 L303.00 326.40 L303.80 327.15 L304.60 327.24 L305.40 326.52 L306.20 327.33 L307.00 327.11 L307.80 327.30 L308.60 326.69 L309.40 326.77 L310.20 326.79 L311.00 327.40 L311.80 326.99 L312.60 326.76 L313.40 326.83 L314.20 326.68 L315.00 326.45 L315.80 326.50 L316.60 327.23 L317.40 326.69 L318.20 327.34 L319.00 326.65 L319.80 326.67 L320.60 326.91 L321.40 326.59 L322.20 326.77 L323.00 327.36 L323.20 326.90" fill="none" stroke="#6ed0e0" stroke-width="1"/><path d="M94.20 328.73 L95.00 328.69 L95.80 328.58 L96.60 328.75 L97.40 328.76 L98.20 328.53 L99.00 328.63 L99.80 328.23 L100.60 328.64 L101.40 328.47 L102.20 328.65 L103.00 328.59 L103.80 328.37 L104.60 328.23 L105.40 328.76 L106.20 328.28 L107.00 328.48 L107.80 328.41 L108.60 328.38 L109.40 328.64 L110.20 328.79 L111.00 328.36 L111.80 328.59 L112.60 328.38 L113.40 328.53 L114.20 328.44 L115.00 328.30 L115.80 328.30 L116.60 328.32 L117.40 328.74 L118.20 328.50 L119.00 328.33 L119.80 328.74 L120.60 328.80 L121.40 328.47 L122.20 328.28 L123.00 328.32 L123.80 328.25 L124.60 328.41 L125.40 328.25 L126.20 328.34 L127.00 328.36 L127.80 328.54 L128.60 328.73 L129.40 328.65 L130.20 328.45 L131.00 328.45 L131.80 328.51 L132.60 328.43 L133.40 328.40 L134.20 328.24 L135.00 328.37 L135.80 328.78 L136.60 328.28 L137.40 328.50 L138.20 328.58 L139.00 328.72 L139.80 328.33 L140.60 328.36 L141.40 328.35 L142.20 328.44 L143.00 328.47 L143.80 328.77 L144.60 328.71 L145.40 328.72 L146.20 328.21 L147.00 328.22 L147.80 328.63 L148.60 328.74 L149.40 328.48 L150.20 328.55 L151.00 328.20 L151.80 328.43 L152.60 328.76 L153.40 328.70 L154.20 328.71 L155.00 328.78 L155.80 328.35 L156.60 328.27 L157.40 328.29 L158.20 328.51 L159.00 328.61 L159.80 328.76 L160.60 328.63 L161.40 328.59 L162.20 328.66 L163.00 328.47 L163.80 328.53 L164.60 328.22 L165.40 328.67 L166.20 328.34 L167.00 328.75 L167.80 328.59 L168.60 328.38 L169.40 328.28 L170.20 328.35 L171.00 328.58 L171.80 328.62 L172.60 328.27 L173.40 328.24 L174.20 328.51 L175.00 328.55 L175.80 328.43 L176.60 328.33 L177.40 328.56 L178.20 328.21 L179.00 328.38 L179.80 328.48 L180.60 328.78 L181.40 328.59 L182.20 328.73 L183.00 328.49 L183.80 328.34 L184.60 328.35 L185.40 328.78 L186.20 328.62 L187.00 328.38 L187.80 328.21 L188.60 328.50 L189.40 328.60 L190.20 328.45 L191.00 328.35 L191.80 328.60 L192.60 328.76 L193.40 328.34 L194.20 328.22 L195.00 328.40 L195.80 328.45 L196.60 328.61 L197.40 328.32 L198.20 328.68 L199.00 328.64 L199.80 328.50 L200.60 328.32 L201.40 328.78 L202.20 328.39 L203.00 328.69 L203.80 328.34 L204.60 328.33 L205.40 328.66 L206.20 328.38 L207.00 328.77 L207.80 328.50 L208.60 328.31 L209.40 328.33 L210.20 328.45 L211.00 328.60 L211.80 328.77 L212.60 328.29 L213.40 328.44 L214.20 328.33 L215.00 328.78 L215.80 328.29 L216.60 328.23 L217.40 328.24 L218.20 328.44 L219.00 328.74 L219.80 328.73 L220.60 328.64 L221.40 328.80 L222.20 328.76 L223.00 328.40 L223.80 328.31 L224.60 328.76 L225.40 328.65 L226.20 328.22 L227.00 328.60 L227.80 328.43 L228.60 328.42 L229.40 328.40 L230.20 328.30 L231.00 328.20 L231.80 328.37 L232.60 328.41 L233.40 328.77 L234.20 328.27 L235.00 328.78 L235.80 328.32 L236.60 328.41 L237.40 328.69 L238.20 328.69 L239.00 328.46 L239.80 328.23 L240.60 328.48 L241.40 328.42 L242.20 328.75 L243.00 328.32 L243.80 328.42 L244.60 328.74 L245.40 328.22 L246.20 328.45 L247.00 328.69 L247.80 328.66 L248.60 328.22 L249.40 328.22 L250.20 328.24 L251.00 328.75 L251.80 328.35 L252.60 328.65 L253.40 328.74 L254.20 328.40 L255.00 328.36 L255.80 328.77 L256.60 328.57 L257.40 328.36 L258.20 328.63 L259.00 328.39 L259.80 328.37 L260.60 328.20 L261.40 328.65 L262.20 328.75 L263.00 328.58 L263.80 328.77 L264.60 328.21 L265.40 328.34 L266.20 328.49 L267.00 328.77 L267.80 328.77 L268.60 328.43 L269.40 328.35 L270.20 328.46 L271.00 328.50 L271.80 328.76 L272.60 328.31 L273.40 328.68 L274.20 328.64 L275.00 328.69 L275.80 328.66 L276.60 328.56 L277.40 328.40 L278.20 328.39 L279.00 328.42 L279.80 328.67 L280.60 328.25 L281.40 328.32 L282.20 328.65 L283.00 328.35 L283.80 328.24 L284.60 328.22 L285.40 328.53 L286.20 328.40 L287.00 328.79 L287.80 328.73 L288.60 328.79 L289.40 328.36 L290.20 328.25 L291.00 328.26 L291.80 328.50 L292.60 328.63 L293.40 328.47 L294.20 328.34 L295.00 328.45 L295.80 328.57 L296.60 328.60 L297.40 328.65 L298.20 328.71 L299.00 328.60 L299.80 328.27 L300.60 328.70 L301.40 328.38 L302.20 328.54 L303.00 328.42 L303.80 328.64 L304.60 328.32 L305.40 328.35 L306.20 328.35 L307.00 328.29 L307.80 328.73 L308.60 328.55 L309.40 328.40 L310.20 328.44 L311.00 328.80 L311.80 328.50 L312.60 328.34 L313.40 328.69 L314.20 328.59 L315.00 328.79 L315.80 328.26 L316.60 328.48 L317.40 328.69 L318.20 328.70 L319.00 328.75 L319.80 328.22 L320.60 328.38 L321.40 328.27 L322.20 328.31 L323.00 328.78 L323.20 328.50" fill="none" stroke="#eab839" stroke-width="1"/></svg>
<div class="sw" style="left:74px;top:359px;background:#7eb26d"></div>
<span class="t" style="left:92.00px;top:354px;font-size:9.6px;line-height:11px;color:#ccccdc;letter-spacing:0.007px;-webkit-text-stroke:0.25px #ccccdc;">usage_idle</span>
<div class="sw" style="left:147px;top:359px;background:#eab839"></div>
<span class="t" style="left:164.50px;top:354px;font-size:9.6px;line-height:11px;color:#ccccdc;letter-spacing:0.055px;-webkit-text-stroke:0.25px #ccccdc;">usage_system</span>
<div class="sw" style="left:235px;top:359px;background:#6ed0e0"></div>
<span class="t" style="left:252.60px;top:354px;font-size:9.6px;line-height:11px;color:#ccccdc;letter-spacing:0.003px;-webkit-text-stroke:0.25px #ccccdc;">usage_user</span>
</section>
<section aria-label="Network">
<div class="panel" style="left:351.00px;top:139.00px;width:139.00px;height:236.00px"></div>
<span class="t" style="left:380.65px;top:146px;font-size:11.2px;line-height:12px;color:#ccccdc;font-weight:700;letter-spacing:-0.427px;">Network Upload</span>
<span class="t" style="left:399.75px;top:212px;font-size:12.8px;line-height:15px;color:#ccccdc;letter-spacing:-0.099px;-webkit-text-stroke:0.35px #ccccdc;">enp1s0</span>
<span class="t" style="left:408.54px;top:199px;font-size:5.4px;line-height:6px;color:#73bf69;-webkit-text-stroke:0.3px #73bf69;">25.5 kB/s</span>
<span class="t" style="left:399.75px;top:280px;font-size:12.8px;line-height:15px;color:#ccccdc;letter-spacing:-0.099px;-webkit-text-stroke:0.35px #ccccdc;">enp7s0</span>
<span class="t" style="left:407.04px;top:267px;font-size:5.4px;line-height:6px;color:#73bf69;-webkit-text-stroke:0.3px #73bf69;">10.00 kB/s</span>
<span class="t" style="left:399.75px;top:348px;font-size:12.8px;line-height:15px;color:#ccccdc;letter-spacing:-0.099px;-webkit-text-stroke:0.35px #ccccdc;">enp8s0</span>
<span class="t" style="left:408.85px;top:333px;font-size:9.6px;line-height:11px;color:#73bf69;font-weight:700;letter-spacing:-0.161px;">0 B/s</span>
<svg class="a" style="left:351.00px;top:139.00px" width="139.00" height="236.00" viewBox="351.00 139.00 139.00 236.00"><path d="M395.80 209.49 A26.50 26.50 0 0 1 421.00 174.80" fill="none" stroke="#73bf69" stroke-width="1.60"/><path d="M421.00 174.80 A26.50 26.50 0 0 1 444.98 190.02" fill="none" stroke="#eab839" stroke-width="1.60"/><path d="M444.98 190.02 A26.50 26.50 0 0 1 446.20 209.49" fill="none" stroke="#f2495c" stroke-width="1.60"/><path d="M401.27 207.71 A20.75 20.75 0 1 1 440.73 207.71" fill="none" stroke="#22252b" stroke-width="8.90"/><path d="M401.27 207.71 A20.75 20.75 0 0 1 401.00 206.81" fill="none" stroke="#73bf69" stroke-width="8.90"/><path d="M395.80 277.59 A26.50 26.50 0 0 1 421.00 242.90" fill="none" stroke="#73bf69" stroke-width="1.60"/><path d="M421.00 242.90 A26.50 26.50 0 0 1 444.98 258.12" fill="none" stroke="#eab839" stroke-width="1.60"/><path d="M444.98 258.12 A26.50 26.50 0 0 1 446.20 277.59" fill="none" stroke="#f2495c" stroke-width="1.60"/><path d="M401.27 275.81 A20.75 20.75 0 1 1 440.73 275.81" fill="none" stroke="#22252b" stroke-width="8.90"/><path d="M401.27 275.81 A20.75 20.75 0 0 1 401.00 274.91" fill="none" stroke="#73bf69" stroke-width="8.90"/><path d="M395.80 345.69 A26.50 26.50 0 0 1 421.00 311.00" fill="none" stroke="#73bf69" stroke-width="1.60"/><path d="M421.00 311.00 A26.50 26.50 0 0 1 444.98 326.22" fill="none" stroke="#eab839" stroke-width="1.60"/><path d="M444.98 326.22 A26.50 26.50 0 0 1 446.20 345.69" fill="none" stroke="#f2495c" stroke-width="1.60"/><path d="M401.27 343.91 A20.75 20.75 0 1 1 440.73 343.91" fill="none" stroke="#22252b" stroke-width="8.90"/></svg>
<div class="panel" style="left:495.00px;top:139.00px;width:140.00px;height:236.00px"></div>
<span class="t" style="left:517.95px;top:146px;font-size:11.2px;line-height:12px;color:#ccccdc;font-weight:700;letter-spacing:-0.447px;">Network Download</span>
<span class="t" style="left:543.95px;top:212px;font-size:12.8px;line-height:15px;color:#ccccdc;letter-spacing:-0.099px;-webkit-text-stroke:0.35px #ccccdc;">enp1s0</span>
<span class="t" style="left:552.74px;top:199px;font-size:5.4px;line-height:6px;color:#73bf69;-webkit-text-stroke:0.3px #73bf69;">33.9 kB/s</span>
<span class="t" style="left:543.95px;top:280px;font-size:12.8px;line-height:15px;color:#ccccdc;letter-spacing:-0.099px;-webkit-text-stroke:0.35px #ccccdc;">enp7s0</span>
<span class="t" style="left:552.74px;top:267px;font-size:5.4px;line-height:6px;color:#73bf69;-webkit-text-stroke:0.3px #73bf69;">20.8 kB/s</span>
<span class="t" style="left:543.95px;top:348px;font-size:12.8px;line-height:15px;color:#ccccdc;letter-spacing:-0.099px;-webkit-text-stroke:0.35px #ccccdc;">enp8s0</span>
<span class="t" style="left:552.74px;top:335px;font-size:5.4px;line-height:6px;color:#73bf69;-webkit-text-stroke:0.3px #73bf69;">2.29 kB/s</span>
<svg class="a" style="left:495.00px;top:139.00px" width="140.00" height="236.00" viewBox="495.00 139.00 140.00 236.00"><path d="M540.00 209.49 A26.50 26.50 0 0 1 565.20 174.80" fill="none" stroke="#73bf69" stroke-width="1.60"/><path d="M565.20 174.80 A26.50 26.50 0 0 1 589.18 190.02" fill="none" stroke="#eab839" stroke-width="1.60"/><path d="M589.18 190.02 A26.50 26.50 0 0 1 590.40 209.49" fill="none" stroke="#f2495c" stroke-width="1.60"/><path d="M545.47 207.71 A20.75 20.75 0 1 1 584.93 207.71" fill="none" stroke="#22252b" stroke-width="8.90"/><path d="M545.47 207.71 A20.75 20.75 0 0 1 545.20 206.81" fill="none" stroke="#73bf69" stroke-width="8.90"/><path d="M540.00 277.59 A26.50 26.50 0 0 1 565.20 242.90" fill="none" stroke="#73bf69" stroke-width="1.60"/><path d="M565.20 242.90 A26.50 26.50 0 0 1 589.18 258.12" fill="none" stroke="#eab839" stroke-width="1.60"/><path d="M589.18 258.12 A26.50 26.50 0 0 1 590.40 277.59" fill="none" stroke="#f2495c" stroke-width="1.60"/><path d="M545.47 275.81 A20.75 20.75 0 1 1 584.93 275.81" fill="none" stroke="#22252b" stroke-width="8.90"/><path d="M545.47 275.81 A20.75 20.75 0 0 1 545.20 274.91" fill="none" stroke="#73bf69" stroke-width="8.90"/><path d="M540.00 345.69 A26.50 26.50 0 0 1 565.20 311.00" fill="none" stroke="#73bf69" stroke-width="1.60"/><path d="M565.20 311.00 A26.50 26.50 0 0 1 589.18 326.22" fill="none" stroke="#eab839" stroke-width="1.60"/><path d="M589.18 326.22 A26.50 26.50 0 0 1 590.40 345.69" fill="none" stroke="#f2495c" stroke-width="1.60"/><path d="M545.47 343.91 A20.75 20.75 0 1 1 584.93 343.91" fill="none" stroke="#22252b" stroke-width="8.90"/><path d="M545.47 343.91 A20.75 20.75 0 0 1 545.20 343.01" fill="none" stroke="#73bf69" stroke-width="8.90"/></svg>
</section>
<section aria-label="System Load">
<div class="panel" style="left:641.00px;top:169.00px;width:285.00px;height:237.00px"></div>
<span class="t" style="left:751.05px;top:176px;font-size:11.2px;line-height:12px;color:#ccccdc;font-weight:700;letter-spacing:-0.481px;">System Load</span>
<span class="t" style="left:649.78px;top:203px;font-size:9.6px;line-height:11px;color:#ccccdc;letter-spacing:-0.150px;-webkit-text-stroke:0.3px #ccccdc;">0.800</span>
<span class="t" style="left:649.78px;top:242px;font-size:9.6px;line-height:11px;color:#ccccdc;letter-spacing:-0.150px;-webkit-text-stroke:0.3px #ccccdc;">0.600</span>
<span class="t" style="left:649.78px;top:279px;font-size:9.6px;line-height:11px;color:#ccccdc;letter-spacing:-0.150px;-webkit-text-stroke:0.3px #ccccdc;">0.400</span>
<span class="t" style="left:649.78px;top:317px;font-size:9.6px;line-height:11px;color:#ccccdc;letter-spacing:-0.150px;-webkit-text-stroke:0.3px #ccccdc;">0.200</span>
<span class="t" style="left:667.86px;top:355px;font-size:9.6px;line-height:11px;color:#ccccdc;-webkit-text-stroke:0.3px #ccccdc;">0</span>
<span class="t" style="left:700.89px;top:367px;font-size:9.6px;line-height:11px;color:#ccccdc;letter-spacing:-0.150px;-webkit-text-stroke:0.3px #ccccdc;">10:20</span>
<span class="t" style="left:776.69px;top:367px;font-size:9.6px;line-height:11px;color:#ccccdc;letter-spacing:-0.150px;-webkit-text-stroke:0.3px #ccccdc;">10:30</span>
<span class="t" style="left:852.49px;top:367px;font-size:9.6px;line-height:11px;color:#ccccdc;letter-spacing:-0.150px;-webkit-text-stroke:0.3px #ccccdc;">10:40</span>
<svg class="a" style="left:641.00px;top:169.00px" width="285.00" height="237.00" viewBox="641.00 169.00 285.00 237.00"><line x1="678.00" x2="905.20" y1="209.30" y2="209.30" stroke="#2c2f34" stroke-width="1"/><line x1="678.00" x2="905.20" y1="247.20" y2="247.20" stroke="#2c2f34" stroke-width="1"/><line x1="678.00" x2="905.20" y1="285.10" y2="285.10" stroke="#2c2f34" stroke-width="1"/><line x1="678.00" x2="905.20" y1="323.10" y2="323.10" stroke="#2c2f34" stroke-width="1"/><line x1="678.00" x2="905.20" y1="361.00" y2="361.00" stroke="#2c2f34" stroke-width="1"/><line x1="712.60" x2="712.60" y1="209.30" y2="361.00" stroke="#34373c" stroke-width="1"/><line x1="788.40" x2="788.40" y1="209.30" y2="361.00" stroke="#34373c" stroke-width="1"/><line x1="864.20" x2="864.20" y1="209.30" y2="361.00" stroke="#34373c" stroke-width="1"/><path d="M677.76 309.52 L680.02 324.56 L681.77 315.79 L683.53 326.57 L685.53 332.83 L687.54 282.71 L689.54 252.63 L691.55 275.19 L693.55 300.25 L695.81 315.79 L698.07 300.25 L700.82 317.29 L702.58 297.74 L704.08 258.90 L705.83 230.08 L707.34 248.87 L708.59 250.13 L710.10 273.93 L711.60 281.45 L713.35 277.69 L715.36 300.25 L717.11 296.49 L718.62 275.19 L720.62 300.25 L722.13 292.73 L723.63 275.19 L725.13 287.72 L726.89 282.71 L729.14 295.24 L731.40 314.04 L733.65 299.00 L736.16 317.79 L737.91 305.26 L739.17 286.47 L740.17 299.00 L741.67 262.66 L744.18 216.29 L746.19 231.33 L747.94 253.88 L749.69 275.19 L751.45 295.24 L753.20 275.19 L755.21 300.25 L756.71 296.49 L758.72 311.53 L760.47 321.55 L761.72 299.00 L762.98 273.43 L764.73 299.00 L766.74 280.95 L768.49 300.25 L771.00 317.79 L773.50 330.33 L775.51 336.59 L777.26 300.25 L778.77 286.47 L780.27 293.98 L781.77 263.91 L783.28 248.87 L785.03 280.20 L786.79 280.20 L788.04 295.24 L788.00 299.00 L790.01 311.53 L791.76 275.19 L793.51 292.73 L795.02 300.25 L796.52 282.71 L798.03 238.85 L800.03 245.11 L801.78 248.87 L803.54 267.67 L805.04 267.67 L806.05 280.20 L808.05 277.69 L809.05 283.96 L810.56 273.43 L812.06 287.72 L813.56 297.74 L815.07 299.00 L816.82 300.25 L818.58 307.77 L820.08 287.72 L822.09 283.96 L824.34 300.25 L826.10 314.04 L827.60 295.24 L829.35 310.28 L831.86 325.31 L833.86 332.83 L836.12 340.35 L837.62 314.04 L839.38 325.31 L841.13 331.58 L843.14 314.04 L845.14 326.57 L847.15 317.79 L849.65 330.33 L851.66 315.29 L853.66 290.23 L855.67 272.68 L857.67 254.39 L859.43 267.67 L861.18 287.72 L862.69 306.52 L863.94 285.21 L865.19 300.25 L866.70 307.77 L868.20 286.47 L870.71 282.71 L872.71 279.70 L873.96 287.72 L875.22 247.62 L876.47 246.37 L877.72 237.59 L879.23 253.88 L880.73 272.68 L882.74 295.24 L884.74 299.00 L886.75 310.28 L888.25 306.52 L890.76 321.55 L892.26 265.16 L894.27 237.59 L896.27 262.66 L897.77 258.15 L899.78 280.20 L901.28 286.47 L903.29 299.00 L905.04 306.52 L905.04 361.00 L677.76 361.00 Z" fill="#5794f2" fill-opacity="0.10"/><path d="M677.76 309.52 L680.02 324.56 L681.77 315.79 L683.53 326.57 L685.53 332.83 L687.54 282.71 L689.54 252.63 L691.55 275.19 L693.55 300.25 L695.81 315.79 L698.07 300.25 L700.82 317.29 L702.58 297.74 L704.08 258.90 L705.83 230.08 L707.34 248.87 L708.59 250.13 L710.10 273.93 L711.60 281.45 L713.35 277.69 L715.36 300.25 L717.11 296.49 L718.62 275.19 L720.62 300.25 L722.13 292.73 L723.63 275.19 L725.13 287.72 L726.89 282.71 L729.14 295.24 L731.40 314.04 L733.65 299.00 L736.16 317.79 L737.91 305.26 L739.17 286.47 L740.17 299.00 L741.67 262.66 L744.18 216.29 L746.19 231.33 L747.94 253.88 L749.69 275.19 L751.45 295.24 L753.20 275.19 L755.21 300.25 L756.71 296.49 L758.72 311.53 L760.47 321.55 L761.72 299.00 L762.98 273.43 L764.73 299.00 L766.74 280.95 L768.49 300.25 L771.00 317.79 L773.50 330.33 L775.51 336.59 L777.26 300.25 L778.77 286.47 L780.27 293.98 L781.77 263.91 L783.28 248.87 L785.03 280.20 L786.79 280.20 L788.04 295.24 L788.00 299.00 L790.01 311.53 L791.76 275.19 L793.51 292.73 L795.02 300.25 L796.52 282.71 L798.03 238.85 L800.03 245.11 L801.78 248.87 L803.54 267.67 L805.04 267.67 L806.05 280.20 L808.05 277.69 L809.05 283.96 L810.56 273.43 L812.06 287.72 L813.56 297.74 L815.07 299.00 L816.82 300.25 L818.58 307.77 L820.08 287.72 L822.09 283.96 L824.34 300.25 L826.10 314.04 L827.60 295.24 L829.35 310.28 L831.86 325.31 L833.86 332.83 L836.12 340.35 L837.62 314.04 L839.38 325.31 L841.13 331.58 L843.14 314.04 L845.14 326.57 L847.15 317.79 L849.65 330.33 L851.66 315.29 L853.66 290.23 L855.67 272.68 L857.67 254.39 L859.43 267.67 L861.18 287.72 L862.69 306.52 L863.94 285.21 L865.19 300.25 L866.70 307.77 L868.20 286.47 L870.71 282.71 L872.71 279.70 L873.96 287.72 L875.22 247.62 L876.47 246.37 L877.72 237.59 L879.23 253.88 L880.73 272.68 L882.74 295.24 L884.74 299.00 L886.75 310.28 L888.25 306.52 L890.76 321.55 L892.26 265.16 L894.27 237.59 L896.27 262.66 L897.77 258.15 L899.78 280.20 L901.28 286.47 L903.29 299.00 L905.04 306.52" fill="none" stroke="#5794f2" stroke-width="1" stroke-linejoin="round"/><path d="M677.76 288.97 L680.77 293.98 L685.78 299.00 L687.54 291.48 L689.54 283.96 L692.05 288.97 L695.81 296.49 L698.32 294.74 L700.82 299.00 L703.33 292.73 L705.83 279.70 L708.34 281.45 L710.85 286.47 L713.35 285.21 L715.86 290.23 L718.37 285.71 L720.87 290.73 L723.38 287.22 L726.64 287.72 L729.64 293.98 L733.40 295.24 L736.66 297.24 L739.67 294.74 L742.18 285.21 L744.68 275.19 L747.19 276.44 L749.69 282.71 L751.70 287.72 L753.45 285.71 L755.96 289.72 L758.47 293.23 L760.97 295.24 L762.98 287.72 L765.23 290.73 L767.24 288.22 L769.74 296.49 L772.25 300.25 L775.26 304.01 L777.26 296.49 L779.77 293.98 L783.03 285.21 L785.28 288.97 L787.29 290.23 L788.00 293.23 L791.76 288.97 L794.27 294.74 L796.77 290.23 L798.53 281.45 L801.78 282.21 L805.04 284.71 L807.55 285.21 L809.30 287.22 L810.56 283.96 L813.06 287.72 L815.57 289.72 L818.08 287.72 L820.58 287.22 L823.09 290.73 L826.85 292.73 L829.35 296.49 L833.11 302.76 L835.62 305.26 L838.13 301.50 L840.63 304.01 L844.39 306.52 L846.90 306.52 L849.40 309.02 L851.41 309.77 L853.66 304.01 L855.67 296.49 L857.67 293.23 L860.18 297.74 L862.69 301.50 L864.44 297.24 L866.95 299.00 L869.45 296.49 L872.71 294.74 L875.22 286.47 L877.72 282.21 L880.23 286.47 L882.74 291.48 L885.74 294.74 L888.25 295.74 L890.76 297.24 L892.76 287.72 L894.77 282.21 L897.02 285.21 L899.53 284.71 L902.04 287.72 L905.04 293.23 L905.04 361.00 L677.76 361.00 Z" fill="#fade2a" fill-opacity="0.10"/><path d="M677.76 288.97 L680.77 293.98 L685.78 299.00 L687.54 291.48 L689.54 283.96 L692.05 288.97 L695.81 296.49 L698.32 294.74 L700.82 299.00 L703.33 292.73 L705.83 279.70 L708.34 281.45 L710.85 286.47 L713.35 285.21 L715.86 290.23 L718.37 285.71 L720.87 290.73 L723.38 287.22 L726.64 287.72 L729.64 293.98 L733.40 295.24 L736.66 297.24 L739.67 294.74 L742.18 285.21 L744.68 275.19 L747.19 276.44 L749.69 282.71 L751.70 287.72 L753.45 285.71 L755.96 289.72 L758.47 293.23 L760.97 295.24 L762.98 287.72 L765.23 290.73 L767.24 288.22 L769.74 296.49 L772.25 300.25 L775.26 304.01 L777.26 296.49 L779.77 293.98 L783.03 285.21 L785.28 288.97 L787.29 290.23 L788.00 293.23 L791.76 288.97 L794.27 294.74 L796.77 290.23 L798.53 281.45 L801.78 282.21 L805.04 284.71 L807.55 285.21 L809.30 287.22 L810.56 283.96 L813.06 287.72 L815.57 289.72 L818.08 287.72 L820.58 287.22 L823.09 290.73 L826.85 292.73 L829.35 296.49 L833.11 302.76 L835.62 305.26 L838.13 301.50 L840.63 304.01 L844.39 306.52 L846.90 306.52 L849.40 309.02 L851.41 309.77 L853.66 304.01 L855.67 296.49 L857.67 293.23 L860.18 297.74 L862.69 301.50 L864.44 297.24 L866.95 299.00 L869.45 296.49 L872.71 294.74 L875.22 286.47 L877.72 282.21 L880.23 286.47 L882.74 291.48 L885.74 294.74 L888.25 295.74 L890.76 297.24 L892.76 287.72 L894.77 282.21 L897.02 285.21 L899.53 284.71 L902.04 287.72 L905.04 293.23" fill="none" stroke="#fade2a" stroke-width="1" stroke-linejoin="round"/><path d="M677.76 292.73 L682.03 295.24 L685.78 297.74 L689.54 292.73 L694.56 294.74 L698.32 293.98 L700.82 296.49 L704.58 291.48 L707.09 289.72 L710.85 291.48 L715.86 292.73 L722.13 292.23 L727.14 291.98 L732.15 293.98 L737.16 295.24 L740.92 293.23 L744.68 287.22 L748.44 288.97 L752.20 290.73 L757.21 292.23 L760.97 293.98 L764.73 292.23 L769.74 293.98 L774.76 297.24 L778.52 294.74 L782.28 291.48 L787.29 292.73 L788.00 294.74 L793.01 293.23 L795.52 292.73 L798.53 288.97 L803.04 289.72 L808.05 290.73 L813.06 291.48 L818.08 292.23 L823.09 292.73 L828.10 293.98 L833.11 296.49 L838.13 297.74 L843.14 298.50 L848.15 299.50 L851.91 300.25 L855.67 296.49 L859.43 294.74 L863.19 296.49 L868.20 295.74 L873.21 294.74 L876.97 291.48 L880.73 291.48 L884.49 293.23 L888.25 294.74 L891.26 294.74 L894.52 291.48 L898.28 290.73 L902.04 292.23 L905.04 293.23 L905.04 361.00 L677.76 361.00 Z" fill="#c4162a" fill-opacity="0.10"/><path d="M677.76 292.73 L682.03 295.24 L685.78 297.74 L689.54 292.73 L694.56 294.74 L698.32 293.98 L700.82 296.49 L704.58 291.48 L707.09 289.72 L710.85 291.48 L715.86 292.73 L722.13 292.23 L727.14 291.98 L732.15 293.98 L737.16 295.24 L740.92 293.23 L744.68 287.22 L748.44 288.97 L752.20 290.73 L757.21 292.23 L760.97 293.98 L764.73 292.23 L769.74 293.98 L774.76 297.24 L778.52 294.74 L782.28 291.48 L787.29 292.73 L788.00 294.74 L793.01 293.23 L795.52 292.73 L798.53 288.97 L803.04 289.72 L808.05 290.73 L813.06 291.48 L818.08 292.23 L823.09 292.73 L828.10 293.98 L833.11 296.49 L838.13 297.74 L843.14 298.50 L848.15 299.50 L851.91 300.25 L855.67 296.49 L859.43 294.74 L863.19 296.49 L868.20 295.74 L873.21 294.74 L876.97 291.48 L880.73 291.48 L884.49 293.23 L888.25 294.74 L891.26 294.74 L894.52 291.48 L898.28 290.73 L902.04 292.23 L905.04 293.23" fill="none" stroke="#c4162a" stroke-width="1" stroke-linejoin="round"/></svg>
<div class="sw" style="left:656px;top:390px;background:#5794f2"></div>
<span class="t" style="left:673.80px;top:385px;font-size:9.6px;line-height:11px;color:#ccccdc;letter-spacing:0.003px;-webkit-text-stroke:0.25px #ccccdc;">load1</span>
<div class="sw" style="left:706px;top:390px;background:#fade2a"></div>
<span class="t" style="left:723.70px;top:385px;font-size:9.6px;line-height:11px;color:#ccccdc;letter-spacing:0.253px;-webkit-text-stroke:0.25px #ccccdc;">load5</span>
<div class="sw" style="left:756px;top:390px;background:#c4162a"></div>
<span class="t" style="left:773.70px;top:385px;font-size:9.6px;line-height:11px;color:#ccccdc;letter-spacing:0.334px;-webkit-text-stroke:0.25px #ccccdc;">load15</span>
</section>
<section aria-label="Processes">
<div class="panel" style="left:932.00px;top:169.00px;width:285.00px;height:237.00px"></div>
<span class="t" style="left:1048.30px;top:176px;font-size:11.2px;line-height:12px;color:#ccccdc;font-weight:700;letter-spacing:-0.456px;">Processes</span>
<span class="t" style="left:940.28px;top:203px;font-size:9.6px;line-height:11px;color:#ccccdc;-webkit-text-stroke:0.3px #ccccdc;">150</span>
<span class="t" style="left:940.28px;top:250px;font-size:9.6px;line-height:11px;color:#ccccdc;-webkit-text-stroke:0.3px #ccccdc;">100</span>
<span class="t" style="left:945.62px;top:296px;font-size:9.6px;line-height:11px;color:#ccccdc;-webkit-text-stroke:0.3px #ccccdc;">50</span>
<span class="t" style="left:950.96px;top:340px;font-size:9.6px;line-height:11px;color:#ccccdc;-webkit-text-stroke:0.3px #ccccdc;">0</span>
<span class="t" style="left:984.69px;top:352px;font-size:9.6px;line-height:11px;color:#ccccdc;letter-spacing:-0.150px;-webkit-text-stroke:0.3px #ccccdc;">10:20</span>
<span class="t" style="left:1063.69px;top:352px;font-size:9.6px;line-height:11px;color:#ccccdc;letter-spacing:-0.150px;-webkit-text-stroke:0.3px #ccccdc;">10:30</span>
<span class="t" style="left:1141.89px;top:352px;font-size:9.6px;line-height:11px;color:#ccccdc;letter-spacing:-0.150px;-webkit-text-stroke:0.3px #ccccdc;">10:40</span>
<svg class="a" style="left:932.00px;top:169.00px" width="285.00" height="237.00" viewBox="932.00 169.00 285.00 237.00"><line x1="961.80" x2="1196.40" y1="209.30" y2="209.30" stroke="#2c2f34" stroke-width="1"/><line x1="961.80" x2="1196.40" y1="255.10" y2="255.10" stroke="#2c2f34" stroke-width="1"/><line x1="961.80" x2="1196.40" y1="301.00" y2="301.00" stroke="#2c2f34" stroke-width="1"/><line x1="961.80" x2="1196.40" y1="346.80" y2="346.80" stroke="#2c2f34" stroke-width="1"/><line x1="996.40" x2="996.40" y1="209.30" y2="346.80" stroke="#34373c" stroke-width="1"/><line x1="1075.40" x2="1075.40" y1="209.30" y2="346.80" stroke="#34373c" stroke-width="1"/><line x1="1153.60" x2="1153.60" y1="209.30" y2="346.80" stroke="#34373c" stroke-width="1"/><path d="M961.80 224.96 L963.10 224.81 L964.40 224.86 L965.70 225.09 L967.00 224.62 L968.30 224.98 L969.60 224.81 L970.90 224.69 L972.20 224.97 L973.50 223.53 L974.80 225.02 L976.10 224.77 L977.40 225.11 L978.70 223.33 L980.00 224.94 L981.30 224.61 L982.60 225.04 L983.90 224.75 L985.20 225.22 L986.50 224.95 L987.80 224.84 L989.10 225.25 L990.40 224.69 L991.70 222.64 L993.00 224.85 L994.30 224.83 L995.60 224.87 L996.90 224.56 L998.20 225.00 L999.50 224.61 L1000.80 224.81 L1002.10 224.65 L1003.40 224.91 L1004.70 224.63 L1006.00 225.11 L1007.30 224.69 L1008.60 225.21 L1009.90 222.80 L1011.20 224.82 L1012.50 224.98 L1013.80 224.66 L1015.10 224.71 L1016.40 225.14 L1017.70 224.68 L1019.00 224.83 L1020.30 224.82 L1021.60 224.72 L1022.90 223.65 L1024.20 223.13 L1025.50 224.63 L1026.80 224.94 L1028.10 224.76 L1029.40 224.96 L1030.70 225.01 L1032.00 223.24 L1033.30 224.89 L1034.60 225.08 L1035.90 224.87 L1037.20 224.02 L1038.50 223.51 L1039.80 223.27 L1041.10 224.61 L1042.40 225.09 L1043.70 224.59 L1045.00 224.81 L1046.30 224.65 L1047.60 225.25 L1048.90 225.12 L1050.20 225.24 L1051.50 225.22 L1052.80 224.67 L1054.10 224.00 L1055.40 225.08 L1056.70 225.18 L1058.00 225.12 L1059.30 224.90 L1060.60 224.70 L1061.90 224.90 L1063.20 224.58 L1064.50 224.66 L1065.80 225.03 L1067.10 224.67 L1068.40 224.63 L1069.70 225.00 L1071.00 225.16 L1072.30 224.96 L1073.60 224.62 L1074.90 224.99 L1076.20 225.11 L1077.50 225.24 L1078.80 224.80 L1080.10 224.86 L1081.40 223.15 L1082.70 224.73 L1084.00 225.24 L1085.30 225.01 L1086.60 223.66 L1087.90 224.98 L1089.20 224.91 L1090.50 224.64 L1091.80 224.34 L1093.10 223.59 L1094.40 224.71 L1095.70 224.96 L1097.00 224.99 L1098.30 224.64 L1099.60 224.72 L1100.90 224.62 L1102.20 225.16 L1103.50 224.83 L1104.80 224.56 L1106.10 224.94 L1107.40 225.00 L1108.70 225.21 L1110.00 224.72 L1111.30 224.58 L1112.60 224.83 L1113.90 224.59 L1115.20 224.56 L1116.50 225.21 L1117.80 224.69 L1119.10 224.90 L1120.40 225.12 L1121.70 224.77 L1123.00 224.58 L1124.30 225.10 L1125.60 224.55 L1126.90 225.07 L1128.20 225.07 L1129.50 223.69 L1130.80 224.58 L1132.10 225.07 L1133.40 225.14 L1134.70 224.74 L1136.00 224.86 L1137.30 224.92 L1138.60 225.00 L1139.90 224.70 L1141.20 224.56 L1142.50 224.72 L1143.80 225.21 L1145.10 224.78 L1146.40 224.78 L1147.70 225.19 L1149.00 225.03 L1150.30 225.24 L1151.60 225.14 L1152.90 225.15 L1154.20 225.06 L1155.50 224.77 L1156.80 222.92 L1158.10 223.83 L1159.40 225.20 L1160.70 223.93 L1162.00 225.03 L1163.30 225.04 L1164.60 224.60 L1165.90 224.80 L1167.20 225.12 L1168.50 224.60 L1169.80 225.19 L1171.10 224.62 L1172.40 222.66 L1173.70 225.12 L1175.00 225.13 L1176.30 223.94 L1177.60 225.08 L1178.90 224.77 L1180.20 224.56 L1181.50 224.75 L1182.80 224.81 L1184.10 225.22 L1185.40 225.15 L1186.70 224.57 L1188.00 224.86 L1189.30 224.79 L1190.60 224.93 L1191.90 223.23 L1193.20 223.70 L1194.50 225.08 L1195.80 224.55 L1196.40 224.90 L1196.40 346.80 L961.80 346.80 Z" fill="#1f78c1" fill-opacity="0.12"/><path d="M961.80 263.60 L963.10 264.95 L964.40 264.64 L965.70 264.80 L967.00 263.52 L968.30 263.77 L969.60 263.48 L970.90 263.82 L972.20 263.49 L973.50 263.46 L974.80 263.70 L976.10 263.60 L977.40 263.40 L978.70 263.67 L980.00 263.39 L981.30 263.74 L982.60 263.70 L983.90 263.74 L985.20 263.66 L986.50 263.53 L987.80 263.55 L989.10 263.55 L990.40 263.80 L991.70 263.39 L993.00 263.79 L994.30 263.36 L995.60 263.45 L996.90 263.48 L998.20 265.00 L999.50 264.80 L1000.80 264.74 L1002.10 264.99 L1003.40 264.67 L1004.70 263.58 L1006.00 263.62 L1007.30 263.73 L1008.60 263.73 L1009.90 263.67 L1011.20 263.52 L1012.50 263.51 L1013.80 263.43 L1015.10 263.77 L1016.40 263.68 L1017.70 263.72 L1019.00 263.43 L1020.30 263.57 L1021.60 263.74 L1022.90 263.64 L1024.20 263.41 L1025.50 263.58 L1026.80 263.79 L1028.10 263.47 L1029.40 263.45 L1030.70 263.50 L1032.00 263.70 L1033.30 263.77 L1034.60 263.43 L1035.90 263.43 L1037.20 263.47 L1038.50 263.51 L1039.80 263.61 L1041.10 263.43 L1042.40 263.51 L1043.70 263.44 L1045.00 263.84 L1046.30 263.71 L1047.60 263.40 L1048.90 263.83 L1050.20 263.40 L1051.50 263.54 L1052.80 263.84 L1054.10 263.75 L1055.40 263.72 L1056.70 263.57 L1058.00 263.45 L1059.30 263.67 L1060.60 263.40 L1061.90 263.45 L1063.20 263.54 L1064.50 263.37 L1065.80 263.55 L1067.10 263.75 L1068.40 263.70 L1069.70 263.60 L1071.00 263.67 L1072.30 263.58 L1073.60 263.42 L1074.90 263.65 L1076.20 263.55 L1077.50 263.72 L1078.80 263.80 L1080.10 263.57 L1081.40 263.64 L1082.70 263.72 L1084.00 263.56 L1085.30 264.66 L1086.60 264.91 L1087.90 264.99 L1089.20 264.94 L1090.50 264.90 L1091.80 264.98 L1093.10 263.69 L1094.40 263.67 L1095.70 263.58 L1097.00 263.51 L1098.30 263.66 L1099.60 263.40 L1100.90 263.56 L1102.20 263.74 L1103.50 263.71 L1104.80 263.66 L1106.10 263.48 L1107.40 263.56 L1108.70 263.58 L1110.00 263.66 L1111.30 263.55 L1112.60 263.69 L1113.90 263.82 L1115.20 263.44 L1116.50 263.68 L1117.80 263.74 L1119.10 263.54 L1120.40 263.59 L1121.70 263.84 L1123.00 263.37 L1124.30 263.62 L1125.60 263.43 L1126.90 263.74 L1128.20 263.82 L1129.50 263.61 L1130.80 263.40 L1132.10 263.64 L1133.40 263.62 L1134.70 263.71 L1136.00 264.81 L1137.30 264.87 L1138.60 264.96 L1139.90 264.81 L1141.20 263.56 L1142.50 263.82 L1143.80 263.46 L1145.10 263.69 L1146.40 263.55 L1147.70 263.73 L1149.00 263.41 L1150.30 263.84 L1151.60 263.53 L1152.90 263.38 L1154.20 263.49 L1155.50 263.55 L1156.80 263.36 L1158.10 263.56 L1159.40 263.56 L1160.70 263.70 L1162.00 263.53 L1163.30 263.48 L1164.60 263.46 L1165.90 263.72 L1167.20 263.82 L1168.50 263.61 L1169.80 263.46 L1171.10 263.75 L1172.40 263.55 L1173.70 263.46 L1175.00 263.41 L1176.30 264.94 L1177.60 264.95 L1178.90 264.87 L1180.20 264.78 L1181.50 264.83 L1182.80 263.46 L1184.10 263.83 L1185.40 263.53 L1186.70 263.67 L1188.00 263.76 L1189.30 263.76 L1190.60 263.58 L1191.90 263.50 L1193.20 263.62 L1194.50 263.41 L1195.80 263.77 L1196.40 263.60 L1196.40 346.80 L961.80 346.80 Z" fill="#6ed0e0" fill-opacity="0.10"/><line x1="996.40" x2="996.40" y1="209.30" y2="346.80" stroke="#ffffff" stroke-opacity="0.09" stroke-width="1"/><line x1="1075.40" x2="1075.40" y1="209.30" y2="346.80" stroke="#ffffff" stroke-opacity="0.09" stroke-width="1"/><line x1="1153.60" x2="1153.60" y1="209.30" y2="346.80" stroke="#ffffff" stroke-opacity="0.09" stroke-width="1"/><path d="M961.80 224.96 L963.10 224.81 L964.40 224.86 L965.70 225.09 L967.00 224.62 L968.30 224.98 L969.60 224.81 L970.90 224.69 L972.20 224.97 L973.50 223.53 L974.80 225.02 L976.10 224.77 L977.40 225.11 L978.70 223.33 L980.00 224.94 L981.30 224.61 L982.60 225.04 L983.90 224.75 L985.20 225.22 L986.50 224.95 L987.80 224.84 L989.10 225.25 L990.40 224.69 L991.70 222.64 L993.00 224.85 L994.30 224.83 L995.60 224.87 L996.90 224.56 L998.20 225.00 L999.50 224.61 L1000.80 224.81 L1002.10 224.65 L1003.40 224.91 L1004.70 224.63 L1006.00 225.11 L1007.30 224.69 L1008.60 225.21 L1009.90 222.80 L1011.20 224.82 L1012.50 224.98 L1013.80 224.66 L1015.10 224.71 L1016.40 225.14 L1017.70 224.68 L1019.00 224.83 L1020.30 224.82 L1021.60 224.72 L1022.90 223.65 L1024.20 223.13 L1025.50 224.63 L1026.80 224.94 L1028.10 224.76 L1029.40 224.96 L1030.70 225.01 L1032.00 223.24 L1033.30 224.89 L1034.60 225.08 L1035.90 224.87 L1037.20 224.02 L1038.50 223.51 L1039.80 223.27 L1041.10 224.61 L1042.40 225.09 L1043.70 224.59 L1045.00 224.81 L1046.30 224.65 L1047.60 225.25 L1048.90 225.12 L1050.20 225.24 L1051.50 225.22 L1052.80 224.67 L1054.10 224.00 L1055.40 225.08 L1056.70 225.18 L1058.00 225.12 L1059.30 224.90 L1060.60 224.70 L1061.90 224.90 L1063.20 224.58 L1064.50 224.66 L1065.80 225.03 L1067.10 224.67 L1068.40 224.63 L1069.70 225.00 L1071.00 225.16 L1072.30 224.96 L1073.60 224.62 L1074.90 224.99 L1076.20 225.11 L1077.50 225.24 L1078.80 224.80 L1080.10 224.86 L1081.40 223.15 L1082.70 224.73 L1084.00 225.24 L1085.30 225.01 L1086.60 223.66 L1087.90 224.98 L1089.20 224.91 L1090.50 224.64 L1091.80 224.34 L1093.10 223.59 L1094.40 224.71 L1095.70 224.96 L1097.00 224.99 L1098.30 224.64 L1099.60 224.72 L1100.90 224.62 L1102.20 225.16 L1103.50 224.83 L1104.80 224.56 L1106.10 224.94 L1107.40 225.00 L1108.70 225.21 L1110.00 224.72 L1111.30 224.58 L1112.60 224.83 L1113.90 224.59 L1115.20 224.56 L1116.50 225.21 L1117.80 224.69 L1119.10 224.90 L1120.40 225.12 L1121.70 224.77 L1123.00 224.58 L1124.30 225.10 L1125.60 224.55 L1126.90 225.07 L1128.20 225.07 L1129.50 223.69 L1130.80 224.58 L1132.10 225.07 L1133.40 225.14 L1134.70 224.74 L1136.00 224.86 L1137.30 224.92 L1138.60 225.00 L1139.90 224.70 L1141.20 224.56 L1142.50 224.72 L1143.80 225.21 L1145.10 224.78 L1146.40 224.78 L1147.70 225.19 L1149.00 225.03 L1150.30 225.24 L1151.60 225.14 L1152.90 225.15 L1154.20 225.06 L1155.50 224.77 L1156.80 222.92 L1158.10 223.83 L1159.40 225.20 L1160.70 223.93 L1162.00 225.03 L1163.30 225.04 L1164.60 224.60 L1165.90 224.80 L1167.20 225.12 L1168.50 224.60 L1169.80 225.19 L1171.10 224.62 L1172.40 222.66 L1173.70 225.12 L1175.00 225.13 L1176.30 223.94 L1177.60 225.08 L1178.90 224.77 L1180.20 224.56 L1181.50 224.75 L1182.80 224.81 L1184.10 225.22 L1185.40 225.15 L1186.70 224.57 L1188.00 224.86 L1189.30 224.79 L1190.60 224.93 L1191.90 223.23 L1193.20 223.70 L1194.50 225.08 L1195.80 224.55 L1196.40 224.90" fill="none" stroke="#1f78c1" stroke-width="1"/><circle cx="961.80" cy="224.96" r="0.8" fill="#1f78c1"/><circle cx="964.40" cy="224.86" r="0.8" fill="#1f78c1"/><circle cx="967.00" cy="224.62" r="0.8" fill="#1f78c1"/><circle cx="969.60" cy="224.81" r="0.8" fill="#1f78c1"/><circle cx="972.20" cy="224.97" r="0.8" fill="#1f78c1"/><circle cx="974.80" cy="225.02" r="0.8" fill="#1f78c1"/><circle cx="977.40" cy="225.11" r="0.8" fill="#1f78c1"/><circle cx="980.00" cy="224.94" r="0.8" fill="#1f78c1"/><circle cx="982.60" cy="225.04" r="0.8" fill="#1f78c1"/><circle cx="985.20" cy="225.22" r="0.8" fill="#1f78c1"/><circle cx="987.80" cy="224.84" r="0.8" fill="#1f78c1"/><circle cx="990.40" cy="224.69" r="0.8" fill="#1f78c1"/><circle cx="993.00" cy="224.85" r="0.8" fill="#1f78c1"/><circle cx="995.60" cy="224.87" r="0.8" fill="#1f78c1"/><circle cx="998.20" cy="225.00" r="0.8" fill="#1f78c1"/><circle cx="1000.80" cy="224.81" r="0.8" fill="#1f78c1"/><circle cx="1003.40" cy="224.91" r="0.8" fill="#1f78c1"/><circle cx="1006.00" cy="225.11" r="0.8" fill="#1f78c1"/><circle cx="1008.60" cy="225.21" r="0.8" fill="#1f78c1"/><circle cx="1011.20" cy="224.82" r="0.8" fill="#1f78c1"/><circle cx="1013.80" cy="224.66" r="0.8" fill="#1f78c1"/><circle cx="1016.40" cy="225.14" r="0.8" fill="#1f78c1"/><circle cx="1019.00" cy="224.83" r="0.8" fill="#1f78c1"/><circle cx="1021.60" cy="224.72" r="0.8" fill="#1f78c1"/><circle cx="1024.20" cy="223.13" r="0.8" fill="#1f78c1"/><circle cx="1026.80" cy="224.94" r="0.8" fill="#1f78c1"/><circle cx="1029.40" cy="224.96" r="0.8" fill="#1f78c1"/><circle cx="1032.00" cy="223.24" r="0.8" fill="#1f78c1"/><circle cx="1034.60" cy="225.08" r="0.8" fill="#1f78c1"/><circle cx="1037.20" cy="224.02" r="0.8" fill="#1f78c1"/><circle cx="1039.80" cy="223.27" r="0.8" fill="#1f78c1"/><circle cx="1042.40" cy="225.09" r="0.8" fill="#1f78c1"/><circle cx="1045.00" cy="224.81" r="0.8" fill="#1f78c1"/><circle cx="1047.60" cy="225.25" r="0.8" fill="#1f78c1"/><circle cx="1050.20" cy="225.24" r="0.8" fill="#1f78c1"/><circle cx="1052.80" cy="224.67" r="0.8" fill="#1f78c1"/><circle cx="1055.40" cy="225.08" r="0.8" fill="#1f78c1"/><circle cx="1058.00" cy="225.12" r="0.8" fill="#1f78c1"/><circle cx="1060.60" cy="224.70" r="0.8" fill="#1f78c1"/><circle cx="1063.20" cy="224.58" r="0.8" fill="#1f78c1"/><circle cx="1065.80" cy="225.03" r="0.8" fill="#1f78c1"/><circle cx="1068.40" cy="224.63" r="0.8" fill="#1f78c1"/><circle cx="1071.00" cy="225.16" r="0.8" fill="#1f78c1"/><circle cx="1073.60" cy="224.62" r="0.8" fill="#1f78c1"/><circle cx="1076.20" cy="225.11" r="0.8" fill="#1f78c1"/><circle cx="1078.80" cy="224.80" r="0.8" fill="#1f78c1"/><circle cx="1081.40" cy="223.15" r="0.8" fill="#1f78c1"/><circle cx="1084.00" cy="225.24" r="0.8" fill="#1f78c1"/><circle cx="1086.60" cy="223.66" r="0.8" fill="#1f78c1"/><circle cx="1089.20" cy="224.91" r="0.8" fill="#1f78c1"/><circle cx="1091.80" cy="224.34" r="0.8" fill="#1f78c1"/><circle cx="1094.40" cy="224.71" r="0.8" fill="#1f78c1"/><circle cx="1097.00" cy="224.99" r="0.8" fill="#1f78c1"/><circle cx="1099.60" cy="224.72" r="0.8" fill="#1f78c1"/><circle cx="1102.20" cy="225.16" r="0.8" fill="#1f78c1"/><circle cx="1104.80" cy="224.56" r="0.8" fill="#1f78c1"/><circle cx="1107.40" cy="225.00" r="0.8" fill="#1f78c1"/><circle cx="1110.00" cy="224.72" r="0.8" fill="#1f78c1"/><circle cx="1112.60" cy="224.83" r="0.8" fill="#1f78c1"/><circle cx="1115.20" cy="224.56" r="0.8" fill="#1f78c1"/><circle cx="1117.80" cy="224.69" r="0.8" fill="#1f78c1"/><circle cx="1120.40" cy="225.12" r="0.8" fill="#1f78c1"/><circle cx="1123.00" cy="224.58" r="0.8" fill="#1f78c1"/><circle cx="1125.60" cy="224.55" r="0.8" fill="#1f78c1"/><circle cx="1128.20" cy="225.07" r="0.8" fill="#1f78c1"/><circle cx="1130.80" cy="224.58" r="0.8" fill="#1f78c1"/><circle cx="1133.40" cy="225.14" r="0.8" fill="#1f78c1"/><circle cx="1136.00" cy="224.86" r="0.8" fill="#1f78c1"/><circle cx="1138.60" cy="225.00" r="0.8" fill="#1f78c1"/><circle cx="1141.20" cy="224.56" r="0.8" fill="#1f78c1"/><circle cx="1143.80" cy="225.21" r="0.8" fill="#1f78c1"/><circle cx="1146.40" cy="224.78" r="0.8" fill="#1f78c1"/><circle cx="1149.00" cy="225.03" r="0.8" fill="#1f78c1"/><circle cx="1151.60" cy="225.14" r="0.8" fill="#1f78c1"/><circle cx="1154.20" cy="225.06" r="0.8" fill="#1f78c1"/><circle cx="1156.80" cy="222.92" r="0.8" fill="#1f78c1"/><circle cx="1159.40" cy="225.20" r="0.8" fill="#1f78c1"/><circle cx="1162.00" cy="225.03" r="0.8" fill="#1f78c1"/><circle cx="1164.60" cy="224.60" r="0.8" fill="#1f78c1"/><circle cx="1167.20" cy="225.12" r="0.8" fill="#1f78c1"/><circle cx="1169.80" cy="225.19" r="0.8" fill="#1f78c1"/><circle cx="1172.40" cy="222.66" r="0.8" fill="#1f78c1"/><circle cx="1175.00" cy="225.13" r="0.8" fill="#1f78c1"/><circle cx="1177.60" cy="225.08" r="0.8" fill="#1f78c1"/><circle cx="1180.20" cy="224.56" r="0.8" fill="#1f78c1"/><circle cx="1182.80" cy="224.81" r="0.8" fill="#1f78c1"/><circle cx="1185.40" cy="225.15" r="0.8" fill="#1f78c1"/><circle cx="1188.00" cy="224.86" r="0.8" fill="#1f78c1"/><circle cx="1190.60" cy="224.93" r="0.8" fill="#1f78c1"/><circle cx="1193.20" cy="223.70" r="0.8" fill="#1f78c1"/><circle cx="1195.80" cy="224.55" r="0.8" fill="#1f78c1"/><path d="M961.80 263.60 L963.10 264.95 L964.40 264.64 L965.70 264.80 L967.00 263.52 L968.30 263.77 L969.60 263.48 L970.90 263.82 L972.20 263.49 L973.50 263.46 L974.80 263.70 L976.10 263.60 L977.40 263.40 L978.70 263.67 L980.00 263.39 L981.30 263.74 L982.60 263.70 L983.90 263.74 L985.20 263.66 L986.50 263.53 L987.80 263.55 L989.10 263.55 L990.40 263.80 L991.70 263.39 L993.00 263.79 L994.30 263.36 L995.60 263.45 L996.90 263.48 L998.20 265.00 L999.50 264.80 L1000.80 264.74 L1002.10 264.99 L1003.40 264.67 L1004.70 263.58 L1006.00 263.62 L1007.30 263.73 L1008.60 263.73 L1009.90 263.67 L1011.20 263.52 L1012.50 263.51 L1013.80 263.43 L1015.10 263.77 L1016.40 263.68 L1017.70 263.72 L1019.00 263.43 L1020.30 263.57 L1021.60 263.74 L1022.90 263.64 L1024.20 263.41 L1025.50 263.58 L1026.80 263.79 L1028.10 263.47 L1029.40 263.45 L1030.70 263.50 L1032.00 263.70 L1033.30 263.77 L1034.60 263.43 L1035.90 263.43 L1037.20 263.47 L1038.50 263.51 L1039.80 263.61 L1041.10 263.43 L1042.40 263.51 L1043.70 263.44 L1045.00 263.84 L1046.30 263.71 L1047.60 263.40 L1048.90 263.83 L1050.20 263.40 L1051.50 263.54 L1052.80 263.84 L1054.10 263.75 L1055.40 263.72 L1056.70 263.57 L1058.00 263.45 L1059.30 263.67 L1060.60 263.40 L1061.90 263.45 L1063.20 263.54 L1064.50 263.37 L1065.80 263.55 L1067.10 263.75 L1068.40 263.70 L1069.70 263.60 L1071.00 263.67 L1072.30 263.58 L1073.60 263.42 L1074.90 263.65 L1076.20 263.55 L1077.50 263.72 L1078.80 263.80 L1080.10 263.57 L1081.40 263.64 L1082.70 263.72 L1084.00 263.56 L1085.30 264.66 L1086.60 264.91 L1087.90 264.99 L1089.20 264.94 L1090.50 264.90 L1091.80 264.98 L1093.10 263.69 L1094.40 263.67 L1095.70 263.58 L1097.00 263.51 L1098.30 263.66 L1099.60 263.40 L1100.90 263.56 L1102.20 263.74 L1103.50 263.71 L1104.80 263.66 L1106.10 263.48 L1107.40 263.56 L1108.70 263.58 L1110.00 263.66 L1111.30 263.55 L1112.60 263.69 L1113.90 263.82 L1115.20 263.44 L1116.50 263.68 L1117.80 263.74 L1119.10 263.54 L1120.40 263.59 L1121.70 263.84 L1123.00 263.37 L1124.30 263.62 L1125.60 263.43 L1126.90 263.74 L1128.20 263.82 L1129.50 263.61 L1130.80 263.40 L1132.10 263.64 L1133.40 263.62 L1134.70 263.71 L1136.00 264.81 L1137.30 264.87 L1138.60 264.96 L1139.90 264.81 L1141.20 263.56 L1142.50 263.82 L1143.80 263.46 L1145.10 263.69 L1146.40 263.55 L1147.70 263.73 L1149.00 263.41 L1150.30 263.84 L1151.60 263.53 L1152.90 263.38 L1154.20 263.49 L1155.50 263.55 L1156.80 263.36 L1158.10 263.56 L1159.40 263.56 L1160.70 263.70 L1162.00 263.53 L1163.30 263.48 L1164.60 263.46 L1165.90 263.72 L1167.20 263.82 L1168.50 263.61 L1169.80 263.46 L1171.10 263.75 L1172.40 263.55 L1173.70 263.46 L1175.00 263.41 L1176.30 264.94 L1177.60 264.95 L1178.90 264.87 L1180.20 264.78 L1181.50 264.83 L1182.80 263.46 L1184.10 263.83 L1185.40 263.53 L1186.70 263.67 L1188.00 263.76 L1189.30 263.76 L1190.60 263.58 L1191.90 263.50 L1193.20 263.62 L1194.50 263.41 L1195.80 263.77 L1196.40 263.60" fill="none" stroke="#4a8f9d" stroke-width="1"/><circle cx="961.80" cy="263.60" r="0.8" fill="#62b6c4"/><circle cx="964.40" cy="264.64" r="0.8" fill="#62b6c4"/><circle cx="967.00" cy="263.52" r="0.8" fill="#62b6c4"/><circle cx="969.60" cy="263.48" r="0.8" fill="#62b6c4"/><circle cx="972.20" cy="263.49" r="0.8" fill="#62b6c4"/><circle cx="974.80" cy="263.70" r="0.8" fill="#62b6c4"/><circle cx="977.40" cy="263.40" r="0.8" fill="#62b6c4"/><circle cx="980.00" cy="263.39" r="0.8" fill="#62b6c4"/><circle cx="982.60" cy="263.70" r="0.8" fill="#62b6c4"/><circle cx="985.20" cy="263.66" r="0.8" fill="#62b6c4"/><circle cx="987.80" cy="263.55" r="0.8" fill="#62b6c4"/><circle cx="990.40" cy="263.80" r="0.8" fill="#62b6c4"/><circle cx="993.00" cy="263.79" r="0.8" fill="#62b6c4"/><circle cx="995.60" cy="263.45" r="0.8" fill="#62b6c4"/><circle cx="998.20" cy="265.00" r="0.8" fill="#62b6c4"/><circle cx="1000.80" cy="264.74" r="0.8" fill="#62b6c4"/><circle cx="1003.40" cy="264.67" r="0.8" fill="#62b6c4"/><circle cx="1006.00" cy="263.62" r="0.8" fill="#62b6c4"/><circle cx="1008.60" cy="263.73" r="0.8" fill="#62b6c4"/><circle cx="1011.20" cy="263.52" r="0.8" fill="#62b6c4"/><circle cx="1013.80" cy="263.43" r="0.8" fill="#62b6c4"/><circle cx="1016.40" cy="263.68" r="0.8" fill="#62b6c4"/><circle cx="1019.00" cy="263.43" r="0.8" fill="#62b6c4"/><circle cx="1021.60" cy="263.74" r="0.8" fill="#62b6c4"/><circle cx="1024.20" cy="263.41" r="0.8" fill="#62b6c4"/><circle cx="1026.80" cy="263.79" r="0.8" fill="#62b6c4"/><circle cx="1029.40" cy="263.45" r="0.8" fill="#62b6c4"/><circle cx="1032.00" cy="263.70" r="0.8" fill="#62b6c4"/><circle cx="1034.60" cy="263.43" r="0.8" fill="#62b6c4"/><circle cx="1037.20" cy="263.47" r="0.8" fill="#62b6c4"/><circle cx="1039.80" cy="263.61" r="0.8" fill="#62b6c4"/><circle cx="1042.40" cy="263.51" r="0.8" fill="#62b6c4"/><circle cx="1045.00" cy="263.84" r="0.8" fill="#62b6c4"/><circle cx="1047.60" cy="263.40" r="0.8" fill="#62b6c4"/><circle cx="1050.20" cy="263.40" r="0.8" fill="#62b6c4"/><circle cx="1052.80" cy="263.84" r="0.8" fill="#62b6c4"/><circle cx="1055.40" cy="263.72" r="0.8" fill="#62b6c4"/><circle cx="1058.00" cy="263.45" r="0.8" fill="#62b6c4"/><circle cx="1060.60" cy="263.40" r="0.8" fill="#62b6c4"/><circle cx="1063.20" cy="263.54" r="0.8" fill="#62b6c4"/><circle cx="1065.80" cy="263.55" r="0.8" fill="#62b6c4"/><circle cx="1068.40" cy="263.70" r="0.8" fill="#62b6c4"/><circle cx="1071.00" cy="263.67" r="0.8" fill="#62b6c4"/><circle cx="1073.60" cy="263.42" r="0.8" fill="#62b6c4"/><circle cx="1076.20" cy="263.55" r="0.8" fill="#62b6c4"/><circle cx="1078.80" cy="263.80" r="0.8" fill="#62b6c4"/><circle cx="1081.40" cy="263.64" r="0.8" fill="#62b6c4"/><circle cx="1084.00" cy="263.56" r="0.8" fill="#62b6c4"/><circle cx="1086.60" cy="264.91" r="0.8" fill="#62b6c4"/><circle cx="1089.20" cy="264.94" r="0.8" fill="#62b6c4"/><circle cx="1091.80" cy="264.98" r="0.8" fill="#62b6c4"/><circle cx="1094.40" cy="263.67" r="0.8" fill="#62b6c4"/><circle cx="1097.00" cy="263.51" r="0.8" fill="#62b6c4"/><circle cx="1099.60" cy="263.40" r="0.8" fill="#62b6c4"/><circle cx="1102.20" cy="263.74" r="0.8" fill="#62b6c4"/><circle cx="1104.80" cy="263.66" r="0.8" fill="#62b6c4"/><circle cx="1107.40" cy="263.56" r="0.8" fill="#62b6c4"/><circle cx="1110.00" cy="263.66" r="0.8" fill="#62b6c4"/><circle cx="1112.60" cy="263.69" r="0.8" fill="#62b6c4"/><circle cx="1115.20" cy="263.44" r="0.8" fill="#62b6c4"/><circle cx="1117.80" cy="263.74" r="0.8" fill="#62b6c4"/><circle cx="1120.40" cy="263.59" r="0.8" fill="#62b6c4"/><circle cx="1123.00" cy="263.37" r="0.8" fill="#62b6c4"/><circle cx="1125.60" cy="263.43" r="0.8" fill="#62b6c4"/><circle cx="1128.20" cy="263.82" r="0.8" fill="#62b6c4"/><circle cx="1130.80" cy="263.40" r="0.8" fill="#62b6c4"/><circle cx="1133.40" cy="263.62" r="0.8" fill="#62b6c4"/><circle cx="1136.00" cy="264.81" r="0.8" fill="#62b6c4"/><circle cx="1138.60" cy="264.96" r="0.8" fill="#62b6c4"/><circle cx="1141.20" cy="263.56" r="0.8" fill="#62b6c4"/><circle cx="1143.80" cy="263.46" r="0.8" fill="#62b6c4"/><circle cx="1146.40" cy="263.55" r="0.8" fill="#62b6c4"/><circle cx="1149.00" cy="263.41" r="0.8" fill="#62b6c4"/><circle cx="1151.60" cy="263.53" r="0.8" fill="#62b6c4"/><circle cx="1154.20" cy="263.49" r="0.8" fill="#62b6c4"/><circle cx="1156.80" cy="263.36" r="0.8" fill="#62b6c4"/><circle cx="1159.40" cy="263.56" r="0.8" fill="#62b6c4"/><circle cx="1162.00" cy="263.53" r="0.8" fill="#62b6c4"/><circle cx="1164.60" cy="263.46" r="0.8" fill="#62b6c4"/><circle cx="1167.20" cy="263.82" r="0.8" fill="#62b6c4"/><circle cx="1169.80" cy="263.46" r="0.8" fill="#62b6c4"/><circle cx="1172.40" cy="263.55" r="0.8" fill="#62b6c4"/><circle cx="1175.00" cy="263.41" r="0.8" fill="#62b6c4"/><circle cx="1177.60" cy="264.95" r="0.8" fill="#62b6c4"/><circle cx="1180.20" cy="264.78" r="0.8" fill="#62b6c4"/><circle cx="1182.80" cy="263.46" r="0.8" fill="#62b6c4"/><circle cx="1185.40" cy="263.53" r="0.8" fill="#62b6c4"/><circle cx="1188.00" cy="263.76" r="0.8" fill="#62b6c4"/><circle cx="1190.60" cy="263.58" r="0.8" fill="#62b6c4"/><circle cx="1193.20" cy="263.62" r="0.8" fill="#62b6c4"/><circle cx="1195.80" cy="263.77" r="0.8" fill="#62b6c4"/><path d="M961.80 346.24 L963.10 346.21 L964.40 346.20 L965.70 344.89 L967.00 346.21 L968.30 346.22 L969.60 346.27 L970.90 346.36 L972.20 346.47 L973.50 346.12 L974.80 346.46 L976.10 346.16 L977.40 345.86 L978.70 346.48 L980.00 346.20 L981.30 346.16 L982.60 346.41 L983.90 346.16 L985.20 346.42 L986.50 346.46 L987.80 346.41 L989.10 346.46 L990.40 346.44 L991.70 346.38 L993.00 346.40 L994.30 346.45 L995.60 346.21 L996.90 346.16 L998.20 346.12 L999.50 346.16 L1000.80 346.30 L1002.10 345.02 L1003.40 346.29 L1004.70 346.37 L1006.00 346.25 L1007.30 346.48 L1008.60 346.35 L1009.90 346.11 L1011.20 346.37 L1012.50 346.23 L1013.80 346.30 L1015.10 346.46 L1016.40 346.39 L1017.70 346.24 L1019.00 346.25 L1020.30 346.31 L1021.60 346.18 L1022.90 346.27 L1024.20 346.43 L1025.50 346.43 L1026.80 346.30 L1028.10 346.30 L1029.40 346.36 L1030.70 346.23 L1032.00 346.22 L1033.30 346.35 L1034.60 346.12 L1035.90 346.45 L1037.20 346.12 L1038.50 346.10 L1039.80 346.47 L1041.10 346.36 L1042.40 346.46 L1043.70 346.35 L1045.00 346.38 L1046.30 346.37 L1047.60 346.37 L1048.90 346.41 L1050.20 346.17 L1051.50 346.41 L1052.80 346.36 L1054.10 346.43 L1055.40 346.32 L1056.70 346.22 L1058.00 346.23 L1059.30 346.36 L1060.60 346.12 L1061.90 346.12 L1063.20 346.42 L1064.50 346.47 L1065.80 346.11 L1067.10 346.34 L1068.40 346.49 L1069.70 346.26 L1071.00 346.36 L1072.30 345.68 L1073.60 346.37 L1074.90 346.49 L1076.20 346.45 L1077.50 346.11 L1078.80 346.20 L1080.10 346.17 L1081.40 346.41 L1082.70 346.44 L1084.00 346.13 L1085.30 346.38 L1086.60 346.47 L1087.90 346.49 L1089.20 344.90 L1090.50 346.43 L1091.80 346.22 L1093.10 346.17 L1094.40 346.29 L1095.70 346.25 L1097.00 346.28 L1098.30 346.16 L1099.60 346.25 L1100.90 346.35 L1102.20 346.25 L1103.50 346.48 L1104.80 346.33 L1106.10 346.12 L1107.40 346.38 L1108.70 346.23 L1110.00 346.49 L1111.30 346.34 L1112.60 346.27 L1113.90 346.25 L1115.20 346.34 L1116.50 346.42 L1117.80 346.10 L1119.10 346.27 L1120.40 346.43 L1121.70 346.12 L1123.00 346.42 L1124.30 346.33 L1125.60 346.44 L1126.90 346.37 L1128.20 346.24 L1129.50 346.32 L1130.80 346.18 L1132.10 346.47 L1133.40 346.34 L1134.70 346.29 L1136.00 346.20 L1137.30 346.42 L1138.60 346.14 L1139.90 346.41 L1141.20 346.33 L1142.50 346.45 L1143.80 346.29 L1145.10 346.18 L1146.40 346.17 L1147.70 346.25 L1149.00 346.26 L1150.30 346.16 L1151.60 346.50 L1152.90 346.14 L1154.20 346.41 L1155.50 346.34 L1156.80 345.79 L1158.10 346.50 L1159.40 346.29 L1160.70 346.20 L1162.00 346.27 L1163.30 346.41 L1164.60 346.49 L1165.90 346.12 L1167.20 346.17 L1168.50 346.12 L1169.80 346.45 L1171.10 346.48 L1172.40 346.13 L1173.70 346.26 L1175.00 346.48 L1176.30 346.33 L1177.60 346.48 L1178.90 346.26 L1180.20 346.16 L1181.50 346.50 L1182.80 346.12 L1184.10 346.24 L1185.40 346.46 L1186.70 346.12 L1188.00 346.38 L1189.30 346.49 L1190.60 346.16 L1191.90 346.48 L1193.20 346.22 L1194.50 346.40 L1195.80 346.23 L1196.40 346.30" fill="none" stroke="#e24d6a" stroke-width="1.600"/></svg>
<div class="sw" style="left:947px;top:376px;background:#7eb26d"></div>
<span class="t" style="left:964.80px;top:371px;font-size:9.6px;line-height:11px;color:#ccccdc;letter-spacing:0.185px;-webkit-text-stroke:0.25px #ccccdc;">blocked</span>
<div class="sw" style="left:1007px;top:376px;background:#eab839"></div>
<span class="t" style="left:1025.00px;top:371px;font-size:9.6px;line-height:11px;color:#ccccdc;letter-spacing:-0.052px;-webkit-text-stroke:0.25px #ccccdc;">dead</span>
<div class="sw" style="left:1054px;top:376px;background:#6ed0e0"></div>
<span class="t" style="left:1072.20px;top:371px;font-size:9.6px;line-height:11px;color:#ccccdc;letter-spacing:0.252px;-webkit-text-stroke:0.25px #ccccdc;">idle</span>
<div class="sw" style="left:1096px;top:376px;background:#ef843c"></div>
<span class="t" style="left:1113.50px;top:371px;font-size:9.6px;line-height:11px;color:#ccccdc;letter-spacing:0.114px;-webkit-text-stroke:0.25px #ccccdc;">paging</span>
<div class="sw" style="left:1151px;top:376px;background:#e24d42"></div>
<span class="t" style="left:1168.90px;top:371px;font-size:9.6px;line-height:11px;color:#ccccdc;letter-spacing:0.046px;-webkit-text-stroke:0.25px #ccccdc;">running</span>
<div class="sw" style="left:947px;top:390px;background:#1f78c1"></div>
<span class="t" style="left:964.80px;top:385px;font-size:9.6px;line-height:11px;color:#ccccdc;letter-spacing:0.148px;-webkit-text-stroke:0.25px #ccccdc;">sleeping</span>
<div class="sw" style="left:1010px;top:390px;background:#ba43a9"></div>
<span class="t" style="left:1027.60px;top:385px;font-size:9.6px;line-height:11px;color:#ccccdc;letter-spacing:0.175px;-webkit-text-stroke:0.25px #ccccdc;">zombies</span>
</section>
<section aria-label="Filesystem Usage">
<div class="panel" style="left:59.00px;top:382.00px;width:285.00px;height:237.00px"></div>
<span class="t" style="left:157.40px;top:389px;font-size:11.2px;line-height:12px;color:#ccccdc;font-weight:700;letter-spacing:-0.429px;">Filesystem Usage</span>
<span class="t" style="left:66.87px;top:415px;font-size:9.6px;line-height:11px;color:#ccccdc;letter-spacing:-0.573px;-webkit-text-stroke:0.3px #ccccdc;">100%</span>
<span class="t" style="left:71.83px;top:446px;font-size:9.6px;line-height:11px;color:#ccccdc;letter-spacing:-0.672px;-webkit-text-stroke:0.3px #ccccdc;">80%</span>
<span class="t" style="left:71.83px;top:476px;font-size:9.6px;line-height:11px;color:#ccccdc;letter-spacing:-0.672px;-webkit-text-stroke:0.3px #ccccdc;">60%</span>
<span class="t" style="left:71.83px;top:507px;font-size:9.6px;line-height:11px;color:#ccccdc;letter-spacing:-0.672px;-webkit-text-stroke:0.3px #ccccdc;">40%</span>
<span class="t" style="left:71.83px;top:536px;font-size:9.6px;line-height:11px;color:#ccccdc;letter-spacing:-0.672px;-webkit-text-stroke:0.3px #ccccdc;">20%</span>
<span class="t" style="left:76.80px;top:567px;font-size:9.6px;line-height:11px;color:#ccccdc;letter-spacing:-0.971px;-webkit-text-stroke:0.3px #ccccdc;">0%</span>
<span class="t" style="left:117.09px;top:579px;font-size:9.6px;line-height:11px;color:#ccccdc;letter-spacing:-0.150px;-webkit-text-stroke:0.3px #ccccdc;">10:20</span>
<span class="t" style="left:193.49px;top:579px;font-size:9.6px;line-height:11px;color:#ccccdc;letter-spacing:-0.150px;-webkit-text-stroke:0.3px #ccccdc;">10:30</span>
<span class="t" style="left:269.99px;top:579px;font-size:9.6px;line-height:11px;color:#ccccdc;letter-spacing:-0.150px;-webkit-text-stroke:0.3px #ccccdc;">10:40</span>
<svg class="a" style="left:59.00px;top:382.00px" width="285.00" height="237.00" viewBox="59.00 382.00 285.00 237.00"><line x1="94.20" x2="323.20" y1="421.60" y2="421.60" stroke="#2c2f34" stroke-width="1"/><line x1="94.20" x2="323.20" y1="451.90" y2="451.90" stroke="#2c2f34" stroke-width="1"/><line x1="94.20" x2="323.20" y1="482.20" y2="482.20" stroke="#2c2f34" stroke-width="1"/><line x1="94.20" x2="323.20" y1="512.50" y2="512.50" stroke="#2c2f34" stroke-width="1"/><line x1="94.20" x2="323.20" y1="542.80" y2="542.80" stroke="#2c2f34" stroke-width="1"/><line x1="94.20" x2="323.20" y1="573.10" y2="573.10" stroke="#2c2f34" stroke-width="1"/><line x1="128.80" x2="128.80" y1="421.60" y2="573.10" stroke="#34373c" stroke-width="1"/><line x1="205.20" x2="205.20" y1="421.60" y2="573.10" stroke="#34373c" stroke-width="1"/><line x1="281.70" x2="281.70" y1="421.60" y2="573.10" stroke="#34373c" stroke-width="1"/><line x1="94.2" x2="323.2" y1="449.4" y2="449.4" stroke="#b8922f" stroke-width="1.100"/><line x1="94.2" x2="323.2" y1="482.0" y2="482.0" stroke="#5aa9b6" stroke-width="1.100"/><line x1="94.2" x2="323.2" y1="542.5" y2="542.5" stroke="#668f59" stroke-width="1.100"/></svg>
<div class="sw" style="left:74px;top:602px;background:#7eb26d"></div>
<span class="t" style="left:91.80px;top:597px;font-size:9.6px;line-height:11px;color:#ccccdc;letter-spacing:0.712px;-webkit-text-stroke:0.25px #ccccdc;">/boot</span>
<div class="sw" style="left:124px;top:602px;background:#eab839"></div>
<span class="t" style="left:141.60px;top:597px;font-size:9.6px;line-height:11px;color:#ccccdc;-webkit-text-stroke:0.25px #ccccdc;">/</span>
<div class="sw" style="left:154px;top:602px;background:#6ed0e0"></div>
<span class="t" style="left:171.40px;top:597px;font-size:9.6px;line-height:11px;color:#ccccdc;letter-spacing:0.480px;-webkit-text-stroke:0.25px #ccccdc;">/home</span>
</section>
<section aria-label="Disk I/O">
<div class="panel" style="left:351.00px;top:382.00px;width:284.00px;height:237.00px"></div>
<span class="t" style="left:472.95px;top:389px;font-size:11.2px;line-height:12px;color:#ccccdc;font-weight:700;letter-spacing:-0.229px;">Disk I/O</span>
<svg class="a" style="left:351.00px;top:382.00px" width="284.00" height="237.00" viewBox="351.00 382.00 284.00 237.00"><path d="M366.66 543.30 A60.50 60.50 0 0 1 442.17 466.83" fill="none" stroke="#73bf69" stroke-width="4.20"/><path d="M442.17 466.83 A60.50 60.50 0 0 1 481.64 505.62" fill="none" stroke="#eab839" stroke-width="4.20"/><path d="M481.64 505.62 A60.50 60.50 0 0 1 481.74 543.30" fill="none" stroke="#f2495c" stroke-width="4.20"/><path d="M381.16 538.58 A45.25 45.25 0 1 1 467.24 538.58" fill="none" stroke="#22252b" stroke-width="25.10"/><path d="M505.46 543.30 A60.50 60.50 0 0 1 580.97 466.83" fill="none" stroke="#73bf69" stroke-width="4.20"/><path d="M580.97 466.83 A60.50 60.50 0 0 1 620.44 505.62" fill="none" stroke="#eab839" stroke-width="4.20"/><path d="M620.44 505.62 A60.50 60.50 0 0 1 620.54 543.30" fill="none" stroke="#f2495c" stroke-width="4.20"/><path d="M519.96 538.58 A45.25 45.25 0 1 1 606.04 538.58" fill="none" stroke="#22252b" stroke-width="25.10"/><path d="M519.96 538.58 A45.25 45.25 0 0 1 519.56 537.28" fill="none" stroke="#73bf69" stroke-width="25.10"/></svg>
<span class="t" style="left:398.65px;top:517px;font-size:21.6px;line-height:25px;color:#73bf69;letter-spacing:0.269px;-webkit-text-stroke:0.8px #73bf69;">0 B/s</span>
<span class="t" style="left:536.40px;top:520px;font-size:14.2px;line-height:16px;color:#73bf69;letter-spacing:-0.408px;-webkit-text-stroke:0.55px #73bf69;">402 kB/s</span>
<span class="t" style="left:394.95px;top:568px;font-size:13px;line-height:15px;color:#ccccdc;letter-spacing:-0.183px;-webkit-text-stroke:0.3px #ccccdc;">Disk Read</span>
<span class="t" style="left:532.65px;top:568px;font-size:13px;line-height:15px;color:#ccccdc;letter-spacing:0.124px;-webkit-text-stroke:0.3px #ccccdc;">Disk Write</span>
</section>
<section aria-label="Swap">
<div class="panel" style="left:641.00px;top:412.00px;width:285.00px;height:237.00px"></div>
<span class="t" style="left:770.00px;top:419px;font-size:11.2px;line-height:12px;color:#ccccdc;font-weight:700;letter-spacing:-0.751px;">Swap</span>
<span class="t" style="left:649.63px;top:446px;font-size:9.6px;line-height:11px;color:#ccccdc;letter-spacing:-0.510px;-webkit-text-stroke:0.3px #ccccdc;">10 GB</span>
<span class="t" style="left:654.56px;top:477px;font-size:9.6px;line-height:11px;color:#ccccdc;letter-spacing:-0.547px;-webkit-text-stroke:0.3px #ccccdc;">8 GB</span>
<span class="t" style="left:654.56px;top:507px;font-size:9.6px;line-height:11px;color:#ccccdc;letter-spacing:-0.547px;-webkit-text-stroke:0.3px #ccccdc;">6 GB</span>
<span class="t" style="left:654.56px;top:538px;font-size:9.6px;line-height:11px;color:#ccccdc;letter-spacing:-0.547px;-webkit-text-stroke:0.3px #ccccdc;">4 GB</span>
<span class="t" style="left:654.56px;top:567px;font-size:9.6px;line-height:11px;color:#ccccdc;letter-spacing:-0.547px;-webkit-text-stroke:0.3px #ccccdc;">2 GB</span>
<span class="t" style="left:661.47px;top:598px;font-size:9.6px;line-height:11px;color:#ccccdc;letter-spacing:-0.540px;-webkit-text-stroke:0.3px #ccccdc;">0 B</span>
<span class="t" style="left:701.59px;top:610px;font-size:9.6px;line-height:11px;color:#ccccdc;letter-spacing:-0.150px;-webkit-text-stroke:0.3px #ccccdc;">10:20</span>
<span class="t" style="left:776.99px;top:610px;font-size:9.6px;line-height:11px;color:#ccccdc;letter-spacing:-0.150px;-webkit-text-stroke:0.3px #ccccdc;">10:30</span>
<span class="t" style="left:852.39px;top:610px;font-size:9.6px;line-height:11px;color:#ccccdc;letter-spacing:-0.150px;-webkit-text-stroke:0.3px #ccccdc;">10:40</span>
<svg class="a" style="left:641.00px;top:412.00px" width="285.00" height="237.00" viewBox="641.00 412.00 285.00 237.00"><line x1="678.60" x2="905.60" y1="452.60" y2="452.60" stroke="#2c2f34" stroke-width="1"/><line x1="678.60" x2="905.60" y1="482.80" y2="482.80" stroke="#2c2f34" stroke-width="1"/><line x1="678.60" x2="905.60" y1="513.00" y2="513.00" stroke="#2c2f34" stroke-width="1"/><line x1="678.60" x2="905.60" y1="543.30" y2="543.30" stroke="#2c2f34" stroke-width="1"/><line x1="678.60" x2="905.60" y1="573.50" y2="573.50" stroke="#2c2f34" stroke-width="1"/><line x1="678.60" x2="905.60" y1="603.70" y2="603.70" stroke="#2c2f34" stroke-width="1"/><line x1="713.30" x2="713.30" y1="452.60" y2="603.70" stroke="#34373c" stroke-width="1"/><line x1="788.70" x2="788.70" y1="452.60" y2="603.70" stroke="#34373c" stroke-width="1"/><line x1="864.10" x2="864.10" y1="452.60" y2="603.70" stroke="#34373c" stroke-width="1"/><line x1="678.6" x2="905.6" y1="475.2" y2="475.2" stroke="#c4601a" stroke-width="1.200" stroke-dasharray="8.8 7.4"/><line x1="678.6" x2="905.6" y1="603.4" y2="603.4" stroke="#2f7a28" stroke-width="1.300"/></svg>
<div class="sw" style="left:656px;top:633px;background:#fa6400"></div>
<span class="t" style="left:674.10px;top:628px;font-size:9.6px;line-height:11px;color:#ccccdc;letter-spacing:0.314px;-webkit-text-stroke:0.25px #ccccdc;">total</span>
<div class="sw" style="left:702px;top:633px;background:#37872d"></div>
<span class="t" style="left:719.40px;top:628px;font-size:9.6px;line-height:11px;color:#ccccdc;letter-spacing:0.027px;-webkit-text-stroke:0.25px #ccccdc;">used</span>
</section>
<section aria-label="Syslog">
<div class="panel" style="left:59.00px;top:625.00px;width:576.00px;height:75.00px"></div>
<span class="t" style="left:330.00px;top:632px;font-size:11.2px;line-height:12px;color:#ccccdc;font-weight:700;letter-spacing:-0.545px;">Syslog</span>
</section>
</main>
</body></html>
